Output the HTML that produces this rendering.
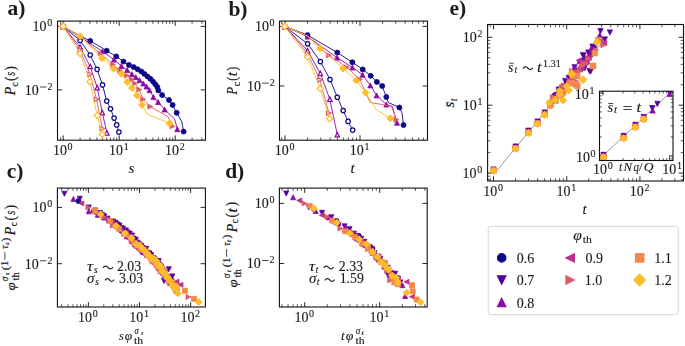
<!DOCTYPE html>
<html><head><meta charset="utf-8"><style>
html,body{margin:0;padding:0;background:#fff;}
svg{display:block;} text{will-change:transform;stroke:#1a1a1a;stroke-width:0.12px;} text[font-weight="bold"]{stroke:none;} .rot text{stroke-width:0.2px;will-change:auto;}
</style></head><body>
<svg width="685" height="346" viewBox="0 0 685 346">
<g stroke="#111"><line x1="63.20" y1="140.20" x2="63.20" y2="135.40" stroke-width="0.9"/><line x1="63.20" y1="21.10" x2="63.20" y2="25.90" stroke-width="0.9"/><line x1="119.20" y1="140.20" x2="119.20" y2="135.40" stroke-width="0.9"/><line x1="119.20" y1="21.10" x2="119.20" y2="25.90" stroke-width="0.9"/><line x1="175.20" y1="140.20" x2="175.20" y2="135.40" stroke-width="0.9"/><line x1="175.20" y1="21.10" x2="175.20" y2="25.90" stroke-width="0.9"/><line x1="60.64" y1="140.20" x2="60.64" y2="137.40" stroke-width="0.7"/><line x1="60.64" y1="21.10" x2="60.64" y2="23.90" stroke-width="0.7"/><line x1="80.06" y1="140.20" x2="80.06" y2="137.40" stroke-width="0.7"/><line x1="80.06" y1="21.10" x2="80.06" y2="23.90" stroke-width="0.7"/><line x1="89.92" y1="140.20" x2="89.92" y2="137.40" stroke-width="0.7"/><line x1="89.92" y1="21.10" x2="89.92" y2="23.90" stroke-width="0.7"/><line x1="96.92" y1="140.20" x2="96.92" y2="137.40" stroke-width="0.7"/><line x1="96.92" y1="21.10" x2="96.92" y2="23.90" stroke-width="0.7"/><line x1="102.34" y1="140.20" x2="102.34" y2="137.40" stroke-width="0.7"/><line x1="102.34" y1="21.10" x2="102.34" y2="23.90" stroke-width="0.7"/><line x1="106.78" y1="140.20" x2="106.78" y2="137.40" stroke-width="0.7"/><line x1="106.78" y1="21.10" x2="106.78" y2="23.90" stroke-width="0.7"/><line x1="110.53" y1="140.20" x2="110.53" y2="137.40" stroke-width="0.7"/><line x1="110.53" y1="21.10" x2="110.53" y2="23.90" stroke-width="0.7"/><line x1="113.77" y1="140.20" x2="113.77" y2="137.40" stroke-width="0.7"/><line x1="113.77" y1="21.10" x2="113.77" y2="23.90" stroke-width="0.7"/><line x1="116.64" y1="140.20" x2="116.64" y2="137.40" stroke-width="0.7"/><line x1="116.64" y1="21.10" x2="116.64" y2="23.90" stroke-width="0.7"/><line x1="136.06" y1="140.20" x2="136.06" y2="137.40" stroke-width="0.7"/><line x1="136.06" y1="21.10" x2="136.06" y2="23.90" stroke-width="0.7"/><line x1="145.92" y1="140.20" x2="145.92" y2="137.40" stroke-width="0.7"/><line x1="145.92" y1="21.10" x2="145.92" y2="23.90" stroke-width="0.7"/><line x1="152.92" y1="140.20" x2="152.92" y2="137.40" stroke-width="0.7"/><line x1="152.92" y1="21.10" x2="152.92" y2="23.90" stroke-width="0.7"/><line x1="158.34" y1="140.20" x2="158.34" y2="137.40" stroke-width="0.7"/><line x1="158.34" y1="21.10" x2="158.34" y2="23.90" stroke-width="0.7"/><line x1="162.78" y1="140.20" x2="162.78" y2="137.40" stroke-width="0.7"/><line x1="162.78" y1="21.10" x2="162.78" y2="23.90" stroke-width="0.7"/><line x1="166.53" y1="140.20" x2="166.53" y2="137.40" stroke-width="0.7"/><line x1="166.53" y1="21.10" x2="166.53" y2="23.90" stroke-width="0.7"/><line x1="169.77" y1="140.20" x2="169.77" y2="137.40" stroke-width="0.7"/><line x1="169.77" y1="21.10" x2="169.77" y2="23.90" stroke-width="0.7"/><line x1="172.64" y1="140.20" x2="172.64" y2="137.40" stroke-width="0.7"/><line x1="172.64" y1="21.10" x2="172.64" y2="23.90" stroke-width="0.7"/><line x1="192.06" y1="140.20" x2="192.06" y2="137.40" stroke-width="0.7"/><line x1="192.06" y1="21.10" x2="192.06" y2="23.90" stroke-width="0.7"/><line x1="201.92" y1="140.20" x2="201.92" y2="137.40" stroke-width="0.7"/><line x1="201.92" y1="21.10" x2="201.92" y2="23.90" stroke-width="0.7"/><line x1="57.50" y1="26.40" x2="62.30" y2="26.40" stroke-width="0.9"/><line x1="205.50" y1="26.40" x2="200.70" y2="26.40" stroke-width="0.9"/><line x1="57.50" y1="89.90" x2="62.30" y2="89.90" stroke-width="0.9"/><line x1="205.50" y1="89.90" x2="200.70" y2="89.90" stroke-width="0.9"/></g>
<g stroke="#111"><line x1="285.00" y1="140.20" x2="285.00" y2="135.40" stroke-width="0.9"/><line x1="285.00" y1="21.10" x2="285.00" y2="25.90" stroke-width="0.9"/><line x1="360.00" y1="140.20" x2="360.00" y2="135.40" stroke-width="0.9"/><line x1="360.00" y1="21.10" x2="360.00" y2="25.90" stroke-width="0.9"/><line x1="281.57" y1="140.20" x2="281.57" y2="137.40" stroke-width="0.7"/><line x1="281.57" y1="21.10" x2="281.57" y2="23.90" stroke-width="0.7"/><line x1="307.58" y1="140.20" x2="307.58" y2="137.40" stroke-width="0.7"/><line x1="307.58" y1="21.10" x2="307.58" y2="23.90" stroke-width="0.7"/><line x1="320.78" y1="140.20" x2="320.78" y2="137.40" stroke-width="0.7"/><line x1="320.78" y1="21.10" x2="320.78" y2="23.90" stroke-width="0.7"/><line x1="330.15" y1="140.20" x2="330.15" y2="137.40" stroke-width="0.7"/><line x1="330.15" y1="21.10" x2="330.15" y2="23.90" stroke-width="0.7"/><line x1="337.42" y1="140.20" x2="337.42" y2="137.40" stroke-width="0.7"/><line x1="337.42" y1="21.10" x2="337.42" y2="23.90" stroke-width="0.7"/><line x1="343.36" y1="140.20" x2="343.36" y2="137.40" stroke-width="0.7"/><line x1="343.36" y1="21.10" x2="343.36" y2="23.90" stroke-width="0.7"/><line x1="348.38" y1="140.20" x2="348.38" y2="137.40" stroke-width="0.7"/><line x1="348.38" y1="21.10" x2="348.38" y2="23.90" stroke-width="0.7"/><line x1="352.73" y1="140.20" x2="352.73" y2="137.40" stroke-width="0.7"/><line x1="352.73" y1="21.10" x2="352.73" y2="23.90" stroke-width="0.7"/><line x1="356.57" y1="140.20" x2="356.57" y2="137.40" stroke-width="0.7"/><line x1="356.57" y1="21.10" x2="356.57" y2="23.90" stroke-width="0.7"/><line x1="382.58" y1="140.20" x2="382.58" y2="137.40" stroke-width="0.7"/><line x1="382.58" y1="21.10" x2="382.58" y2="23.90" stroke-width="0.7"/><line x1="395.78" y1="140.20" x2="395.78" y2="137.40" stroke-width="0.7"/><line x1="395.78" y1="21.10" x2="395.78" y2="23.90" stroke-width="0.7"/><line x1="405.15" y1="140.20" x2="405.15" y2="137.40" stroke-width="0.7"/><line x1="405.15" y1="21.10" x2="405.15" y2="23.90" stroke-width="0.7"/><line x1="412.42" y1="140.20" x2="412.42" y2="137.40" stroke-width="0.7"/><line x1="412.42" y1="21.10" x2="412.42" y2="23.90" stroke-width="0.7"/><line x1="418.36" y1="140.20" x2="418.36" y2="137.40" stroke-width="0.7"/><line x1="418.36" y1="21.10" x2="418.36" y2="23.90" stroke-width="0.7"/><line x1="423.38" y1="140.20" x2="423.38" y2="137.40" stroke-width="0.7"/><line x1="423.38" y1="21.10" x2="423.38" y2="23.90" stroke-width="0.7"/><line x1="279.50" y1="26.40" x2="284.30" y2="26.40" stroke-width="0.9"/><line x1="427.50" y1="26.40" x2="422.70" y2="26.40" stroke-width="0.9"/><line x1="279.50" y1="86.00" x2="284.30" y2="86.00" stroke-width="0.9"/><line x1="427.50" y1="86.00" x2="422.70" y2="86.00" stroke-width="0.9"/></g>
<g stroke="#111"><line x1="88.40" y1="307.00" x2="88.40" y2="302.20" stroke-width="0.9"/><line x1="88.40" y1="188.10" x2="88.40" y2="192.90" stroke-width="0.9"/><line x1="139.50" y1="307.00" x2="139.50" y2="302.20" stroke-width="0.9"/><line x1="139.50" y1="188.10" x2="139.50" y2="192.90" stroke-width="0.9"/><line x1="190.60" y1="307.00" x2="190.60" y2="302.20" stroke-width="0.9"/><line x1="190.60" y1="188.10" x2="190.60" y2="192.90" stroke-width="0.9"/><line x1="61.68" y1="307.00" x2="61.68" y2="304.20" stroke-width="0.7"/><line x1="61.68" y1="188.10" x2="61.68" y2="190.90" stroke-width="0.7"/><line x1="68.07" y1="307.00" x2="68.07" y2="304.20" stroke-width="0.7"/><line x1="68.07" y1="188.10" x2="68.07" y2="190.90" stroke-width="0.7"/><line x1="73.02" y1="307.00" x2="73.02" y2="304.20" stroke-width="0.7"/><line x1="73.02" y1="188.10" x2="73.02" y2="190.90" stroke-width="0.7"/><line x1="77.06" y1="307.00" x2="77.06" y2="304.20" stroke-width="0.7"/><line x1="77.06" y1="188.10" x2="77.06" y2="190.90" stroke-width="0.7"/><line x1="80.48" y1="307.00" x2="80.48" y2="304.20" stroke-width="0.7"/><line x1="80.48" y1="188.10" x2="80.48" y2="190.90" stroke-width="0.7"/><line x1="83.45" y1="307.00" x2="83.45" y2="304.20" stroke-width="0.7"/><line x1="83.45" y1="188.10" x2="83.45" y2="190.90" stroke-width="0.7"/><line x1="86.06" y1="307.00" x2="86.06" y2="304.20" stroke-width="0.7"/><line x1="86.06" y1="188.10" x2="86.06" y2="190.90" stroke-width="0.7"/><line x1="103.78" y1="307.00" x2="103.78" y2="304.20" stroke-width="0.7"/><line x1="103.78" y1="188.10" x2="103.78" y2="190.90" stroke-width="0.7"/><line x1="112.78" y1="307.00" x2="112.78" y2="304.20" stroke-width="0.7"/><line x1="112.78" y1="188.10" x2="112.78" y2="190.90" stroke-width="0.7"/><line x1="119.17" y1="307.00" x2="119.17" y2="304.20" stroke-width="0.7"/><line x1="119.17" y1="188.10" x2="119.17" y2="190.90" stroke-width="0.7"/><line x1="124.12" y1="307.00" x2="124.12" y2="304.20" stroke-width="0.7"/><line x1="124.12" y1="188.10" x2="124.12" y2="190.90" stroke-width="0.7"/><line x1="128.16" y1="307.00" x2="128.16" y2="304.20" stroke-width="0.7"/><line x1="128.16" y1="188.10" x2="128.16" y2="190.90" stroke-width="0.7"/><line x1="131.58" y1="307.00" x2="131.58" y2="304.20" stroke-width="0.7"/><line x1="131.58" y1="188.10" x2="131.58" y2="190.90" stroke-width="0.7"/><line x1="134.55" y1="307.00" x2="134.55" y2="304.20" stroke-width="0.7"/><line x1="134.55" y1="188.10" x2="134.55" y2="190.90" stroke-width="0.7"/><line x1="137.16" y1="307.00" x2="137.16" y2="304.20" stroke-width="0.7"/><line x1="137.16" y1="188.10" x2="137.16" y2="190.90" stroke-width="0.7"/><line x1="154.88" y1="307.00" x2="154.88" y2="304.20" stroke-width="0.7"/><line x1="154.88" y1="188.10" x2="154.88" y2="190.90" stroke-width="0.7"/><line x1="163.88" y1="307.00" x2="163.88" y2="304.20" stroke-width="0.7"/><line x1="163.88" y1="188.10" x2="163.88" y2="190.90" stroke-width="0.7"/><line x1="170.27" y1="307.00" x2="170.27" y2="304.20" stroke-width="0.7"/><line x1="170.27" y1="188.10" x2="170.27" y2="190.90" stroke-width="0.7"/><line x1="175.22" y1="307.00" x2="175.22" y2="304.20" stroke-width="0.7"/><line x1="175.22" y1="188.10" x2="175.22" y2="190.90" stroke-width="0.7"/><line x1="179.26" y1="307.00" x2="179.26" y2="304.20" stroke-width="0.7"/><line x1="179.26" y1="188.10" x2="179.26" y2="190.90" stroke-width="0.7"/><line x1="182.68" y1="307.00" x2="182.68" y2="304.20" stroke-width="0.7"/><line x1="182.68" y1="188.10" x2="182.68" y2="190.90" stroke-width="0.7"/><line x1="185.65" y1="307.00" x2="185.65" y2="304.20" stroke-width="0.7"/><line x1="185.65" y1="188.10" x2="185.65" y2="190.90" stroke-width="0.7"/><line x1="188.26" y1="307.00" x2="188.26" y2="304.20" stroke-width="0.7"/><line x1="188.26" y1="188.10" x2="188.26" y2="190.90" stroke-width="0.7"/><line x1="57.40" y1="207.40" x2="62.20" y2="207.40" stroke-width="0.9"/><line x1="205.40" y1="207.40" x2="200.60" y2="207.40" stroke-width="0.9"/><line x1="57.40" y1="263.70" x2="62.20" y2="263.70" stroke-width="0.9"/><line x1="205.40" y1="263.70" x2="200.60" y2="263.70" stroke-width="0.9"/></g>
<g stroke="#111"><line x1="304.70" y1="307.00" x2="304.70" y2="302.20" stroke-width="0.9"/><line x1="304.70" y1="188.10" x2="304.70" y2="192.90" stroke-width="0.9"/><line x1="379.70" y1="307.00" x2="379.70" y2="302.20" stroke-width="0.9"/><line x1="379.70" y1="188.10" x2="379.70" y2="192.90" stroke-width="0.9"/><line x1="282.12" y1="307.00" x2="282.12" y2="304.20" stroke-width="0.7"/><line x1="282.12" y1="188.10" x2="282.12" y2="190.90" stroke-width="0.7"/><line x1="288.06" y1="307.00" x2="288.06" y2="304.20" stroke-width="0.7"/><line x1="288.06" y1="188.10" x2="288.06" y2="190.90" stroke-width="0.7"/><line x1="293.08" y1="307.00" x2="293.08" y2="304.20" stroke-width="0.7"/><line x1="293.08" y1="188.10" x2="293.08" y2="190.90" stroke-width="0.7"/><line x1="297.43" y1="307.00" x2="297.43" y2="304.20" stroke-width="0.7"/><line x1="297.43" y1="188.10" x2="297.43" y2="190.90" stroke-width="0.7"/><line x1="301.27" y1="307.00" x2="301.27" y2="304.20" stroke-width="0.7"/><line x1="301.27" y1="188.10" x2="301.27" y2="190.90" stroke-width="0.7"/><line x1="327.28" y1="307.00" x2="327.28" y2="304.20" stroke-width="0.7"/><line x1="327.28" y1="188.10" x2="327.28" y2="190.90" stroke-width="0.7"/><line x1="340.48" y1="307.00" x2="340.48" y2="304.20" stroke-width="0.7"/><line x1="340.48" y1="188.10" x2="340.48" y2="190.90" stroke-width="0.7"/><line x1="349.85" y1="307.00" x2="349.85" y2="304.20" stroke-width="0.7"/><line x1="349.85" y1="188.10" x2="349.85" y2="190.90" stroke-width="0.7"/><line x1="357.12" y1="307.00" x2="357.12" y2="304.20" stroke-width="0.7"/><line x1="357.12" y1="188.10" x2="357.12" y2="190.90" stroke-width="0.7"/><line x1="363.06" y1="307.00" x2="363.06" y2="304.20" stroke-width="0.7"/><line x1="363.06" y1="188.10" x2="363.06" y2="190.90" stroke-width="0.7"/><line x1="368.08" y1="307.00" x2="368.08" y2="304.20" stroke-width="0.7"/><line x1="368.08" y1="188.10" x2="368.08" y2="190.90" stroke-width="0.7"/><line x1="372.43" y1="307.00" x2="372.43" y2="304.20" stroke-width="0.7"/><line x1="372.43" y1="188.10" x2="372.43" y2="190.90" stroke-width="0.7"/><line x1="376.27" y1="307.00" x2="376.27" y2="304.20" stroke-width="0.7"/><line x1="376.27" y1="188.10" x2="376.27" y2="190.90" stroke-width="0.7"/><line x1="402.28" y1="307.00" x2="402.28" y2="304.20" stroke-width="0.7"/><line x1="402.28" y1="188.10" x2="402.28" y2="190.90" stroke-width="0.7"/><line x1="415.48" y1="307.00" x2="415.48" y2="304.20" stroke-width="0.7"/><line x1="415.48" y1="188.10" x2="415.48" y2="190.90" stroke-width="0.7"/><line x1="424.85" y1="307.00" x2="424.85" y2="304.20" stroke-width="0.7"/><line x1="424.85" y1="188.10" x2="424.85" y2="190.90" stroke-width="0.7"/><line x1="279.40" y1="203.40" x2="284.20" y2="203.40" stroke-width="0.9"/><line x1="427.20" y1="203.40" x2="422.40" y2="203.40" stroke-width="0.9"/><line x1="279.40" y1="263.50" x2="284.20" y2="263.50" stroke-width="0.9"/><line x1="427.20" y1="263.50" x2="422.40" y2="263.50" stroke-width="0.9"/></g>
<g stroke="#111"><line x1="493.50" y1="181.00" x2="493.50" y2="176.20" stroke-width="0.9"/><line x1="493.50" y1="24.50" x2="493.50" y2="29.30" stroke-width="0.9"/><line x1="566.70" y1="181.00" x2="566.70" y2="176.20" stroke-width="0.9"/><line x1="566.70" y1="24.50" x2="566.70" y2="29.30" stroke-width="0.9"/><line x1="639.90" y1="181.00" x2="639.90" y2="176.20" stroke-width="0.9"/><line x1="639.90" y1="24.50" x2="639.90" y2="29.30" stroke-width="0.9"/><line x1="490.15" y1="181.00" x2="490.15" y2="178.20" stroke-width="0.7"/><line x1="490.15" y1="24.50" x2="490.15" y2="27.30" stroke-width="0.7"/><line x1="515.54" y1="181.00" x2="515.54" y2="178.20" stroke-width="0.7"/><line x1="515.54" y1="24.50" x2="515.54" y2="27.30" stroke-width="0.7"/><line x1="528.43" y1="181.00" x2="528.43" y2="178.20" stroke-width="0.7"/><line x1="528.43" y1="24.50" x2="528.43" y2="27.30" stroke-width="0.7"/><line x1="537.57" y1="181.00" x2="537.57" y2="178.20" stroke-width="0.7"/><line x1="537.57" y1="24.50" x2="537.57" y2="27.30" stroke-width="0.7"/><line x1="544.66" y1="181.00" x2="544.66" y2="178.20" stroke-width="0.7"/><line x1="544.66" y1="24.50" x2="544.66" y2="27.30" stroke-width="0.7"/><line x1="550.46" y1="181.00" x2="550.46" y2="178.20" stroke-width="0.7"/><line x1="550.46" y1="24.50" x2="550.46" y2="27.30" stroke-width="0.7"/><line x1="555.36" y1="181.00" x2="555.36" y2="178.20" stroke-width="0.7"/><line x1="555.36" y1="24.50" x2="555.36" y2="27.30" stroke-width="0.7"/><line x1="559.61" y1="181.00" x2="559.61" y2="178.20" stroke-width="0.7"/><line x1="559.61" y1="24.50" x2="559.61" y2="27.30" stroke-width="0.7"/><line x1="563.35" y1="181.00" x2="563.35" y2="178.20" stroke-width="0.7"/><line x1="563.35" y1="24.50" x2="563.35" y2="27.30" stroke-width="0.7"/><line x1="588.74" y1="181.00" x2="588.74" y2="178.20" stroke-width="0.7"/><line x1="588.74" y1="24.50" x2="588.74" y2="27.30" stroke-width="0.7"/><line x1="601.63" y1="181.00" x2="601.63" y2="178.20" stroke-width="0.7"/><line x1="601.63" y1="24.50" x2="601.63" y2="27.30" stroke-width="0.7"/><line x1="610.77" y1="181.00" x2="610.77" y2="178.20" stroke-width="0.7"/><line x1="610.77" y1="24.50" x2="610.77" y2="27.30" stroke-width="0.7"/><line x1="617.86" y1="181.00" x2="617.86" y2="178.20" stroke-width="0.7"/><line x1="617.86" y1="24.50" x2="617.86" y2="27.30" stroke-width="0.7"/><line x1="623.66" y1="181.00" x2="623.66" y2="178.20" stroke-width="0.7"/><line x1="623.66" y1="24.50" x2="623.66" y2="27.30" stroke-width="0.7"/><line x1="628.56" y1="181.00" x2="628.56" y2="178.20" stroke-width="0.7"/><line x1="628.56" y1="24.50" x2="628.56" y2="27.30" stroke-width="0.7"/><line x1="632.81" y1="181.00" x2="632.81" y2="178.20" stroke-width="0.7"/><line x1="632.81" y1="24.50" x2="632.81" y2="27.30" stroke-width="0.7"/><line x1="636.55" y1="181.00" x2="636.55" y2="178.20" stroke-width="0.7"/><line x1="636.55" y1="24.50" x2="636.55" y2="27.30" stroke-width="0.7"/><line x1="661.94" y1="181.00" x2="661.94" y2="178.20" stroke-width="0.7"/><line x1="661.94" y1="24.50" x2="661.94" y2="27.30" stroke-width="0.7"/><line x1="674.83" y1="181.00" x2="674.83" y2="178.20" stroke-width="0.7"/><line x1="674.83" y1="24.50" x2="674.83" y2="27.30" stroke-width="0.7"/><line x1="487.60" y1="173.10" x2="492.40" y2="173.10" stroke-width="0.9"/><line x1="683.50" y1="173.10" x2="678.70" y2="173.10" stroke-width="0.9"/><line x1="487.60" y1="105.20" x2="492.40" y2="105.20" stroke-width="0.9"/><line x1="683.50" y1="105.20" x2="678.70" y2="105.20" stroke-width="0.9"/><line x1="487.60" y1="37.30" x2="492.40" y2="37.30" stroke-width="0.9"/><line x1="683.50" y1="37.30" x2="678.70" y2="37.30" stroke-width="0.9"/><line x1="487.60" y1="179.68" x2="490.40" y2="179.68" stroke-width="0.7"/><line x1="683.50" y1="179.68" x2="680.70" y2="179.68" stroke-width="0.7"/><line x1="487.60" y1="176.21" x2="490.40" y2="176.21" stroke-width="0.7"/><line x1="683.50" y1="176.21" x2="680.70" y2="176.21" stroke-width="0.7"/><line x1="487.60" y1="152.66" x2="490.40" y2="152.66" stroke-width="0.7"/><line x1="683.50" y1="152.66" x2="680.70" y2="152.66" stroke-width="0.7"/><line x1="487.60" y1="140.70" x2="490.40" y2="140.70" stroke-width="0.7"/><line x1="683.50" y1="140.70" x2="680.70" y2="140.70" stroke-width="0.7"/><line x1="487.60" y1="132.22" x2="490.40" y2="132.22" stroke-width="0.7"/><line x1="683.50" y1="132.22" x2="680.70" y2="132.22" stroke-width="0.7"/><line x1="487.60" y1="125.64" x2="490.40" y2="125.64" stroke-width="0.7"/><line x1="683.50" y1="125.64" x2="680.70" y2="125.64" stroke-width="0.7"/><line x1="487.60" y1="120.26" x2="490.40" y2="120.26" stroke-width="0.7"/><line x1="683.50" y1="120.26" x2="680.70" y2="120.26" stroke-width="0.7"/><line x1="487.60" y1="115.72" x2="490.40" y2="115.72" stroke-width="0.7"/><line x1="683.50" y1="115.72" x2="680.70" y2="115.72" stroke-width="0.7"/><line x1="487.60" y1="111.78" x2="490.40" y2="111.78" stroke-width="0.7"/><line x1="683.50" y1="111.78" x2="680.70" y2="111.78" stroke-width="0.7"/><line x1="487.60" y1="108.31" x2="490.40" y2="108.31" stroke-width="0.7"/><line x1="683.50" y1="108.31" x2="680.70" y2="108.31" stroke-width="0.7"/><line x1="487.60" y1="84.76" x2="490.40" y2="84.76" stroke-width="0.7"/><line x1="683.50" y1="84.76" x2="680.70" y2="84.76" stroke-width="0.7"/><line x1="487.60" y1="72.80" x2="490.40" y2="72.80" stroke-width="0.7"/><line x1="683.50" y1="72.80" x2="680.70" y2="72.80" stroke-width="0.7"/><line x1="487.60" y1="64.32" x2="490.40" y2="64.32" stroke-width="0.7"/><line x1="683.50" y1="64.32" x2="680.70" y2="64.32" stroke-width="0.7"/><line x1="487.60" y1="57.74" x2="490.40" y2="57.74" stroke-width="0.7"/><line x1="683.50" y1="57.74" x2="680.70" y2="57.74" stroke-width="0.7"/><line x1="487.60" y1="52.36" x2="490.40" y2="52.36" stroke-width="0.7"/><line x1="683.50" y1="52.36" x2="680.70" y2="52.36" stroke-width="0.7"/><line x1="487.60" y1="47.82" x2="490.40" y2="47.82" stroke-width="0.7"/><line x1="683.50" y1="47.82" x2="680.70" y2="47.82" stroke-width="0.7"/><line x1="487.60" y1="43.88" x2="490.40" y2="43.88" stroke-width="0.7"/><line x1="683.50" y1="43.88" x2="680.70" y2="43.88" stroke-width="0.7"/><line x1="487.60" y1="40.41" x2="490.40" y2="40.41" stroke-width="0.7"/><line x1="683.50" y1="40.41" x2="680.70" y2="40.41" stroke-width="0.7"/></g>
<text x="7.55" y="15.30" font-family='"Liberation Serif", serif' font-size="21.5" font-weight="bold" fill="#1a1a1a" >a)</text>
<text x="228.38" y="15.70" font-family='"Liberation Serif", serif' font-size="21.5" font-weight="bold" fill="#1a1a1a" >b)</text>
<text x="6.75" y="178.10" font-family='"Liberation Serif", serif' font-size="21.5" font-weight="bold" fill="#1a1a1a" >c)</text>
<text x="225.14" y="178.30" font-family='"Liberation Serif", serif' font-size="21.5" font-weight="bold" fill="#1a1a1a" >d)</text>
<text x="449.45" y="15.00" font-family='"Liberation Serif", serif' font-size="21.5" font-weight="bold" fill="#1a1a1a" >e)</text>
<text x="52.92" y="155.00" font-family='"Liberation Serif", serif' font-size="14" fill="#1a1a1a" >10</text><text x="67.62" y="149.90" font-family='"Liberation Serif", serif' font-size="10" fill="#1a1a1a" >0</text>
<text x="109.02" y="155.00" font-family='"Liberation Serif", serif' font-size="14" fill="#1a1a1a" >10</text><text x="123.72" y="149.90" font-family='"Liberation Serif", serif' font-size="10" fill="#1a1a1a" >1</text>
<text x="164.99" y="155.00" font-family='"Liberation Serif", serif' font-size="14" fill="#1a1a1a" >10</text><text x="179.69" y="149.90" font-family='"Liberation Serif", serif' font-size="10" fill="#1a1a1a" >2</text>
<text x="32.60" y="31.30" font-family='"Liberation Serif", serif' font-size="14" fill="#1a1a1a" >10</text><text x="47.30" y="26.20" font-family='"Liberation Serif", serif' font-size="10" fill="#1a1a1a" >0</text>
<text x="24.65" y="94.80" font-family='"Liberation Serif", serif' font-size="14" fill="#1a1a1a" >10</text><rect x="39.85" y="86.60" width="6.60" height="0.8" fill="#1a1a1a"/><text x="47.45" y="89.70" font-family='"Liberation Serif", serif' font-size="10" fill="#1a1a1a" >2</text>
<text x="274.72" y="155.00" font-family='"Liberation Serif", serif' font-size="14" fill="#1a1a1a" >10</text><text x="289.42" y="149.90" font-family='"Liberation Serif", serif' font-size="10" fill="#1a1a1a" >0</text>
<text x="349.82" y="155.00" font-family='"Liberation Serif", serif' font-size="14" fill="#1a1a1a" >10</text><text x="364.52" y="149.90" font-family='"Liberation Serif", serif' font-size="10" fill="#1a1a1a" >1</text>
<text x="254.90" y="31.30" font-family='"Liberation Serif", serif' font-size="14" fill="#1a1a1a" >10</text><text x="269.60" y="26.20" font-family='"Liberation Serif", serif' font-size="10" fill="#1a1a1a" >0</text>
<text x="246.95" y="90.90" font-family='"Liberation Serif", serif' font-size="14" fill="#1a1a1a" >10</text><rect x="262.15" y="82.70" width="6.60" height="0.8" fill="#1a1a1a"/><text x="269.75" y="85.80" font-family='"Liberation Serif", serif' font-size="10" fill="#1a1a1a" >2</text>
<text x="78.12" y="321.60" font-family='"Liberation Serif", serif' font-size="14" fill="#1a1a1a" >10</text><text x="92.82" y="316.50" font-family='"Liberation Serif", serif' font-size="10" fill="#1a1a1a" >0</text>
<text x="129.32" y="321.60" font-family='"Liberation Serif", serif' font-size="14" fill="#1a1a1a" >10</text><text x="144.02" y="316.50" font-family='"Liberation Serif", serif' font-size="10" fill="#1a1a1a" >1</text>
<text x="180.40" y="321.60" font-family='"Liberation Serif", serif' font-size="14" fill="#1a1a1a" >10</text><text x="195.09" y="316.50" font-family='"Liberation Serif", serif' font-size="10" fill="#1a1a1a" >2</text>
<text x="32.60" y="212.30" font-family='"Liberation Serif", serif' font-size="14" fill="#1a1a1a" >10</text><text x="47.30" y="207.20" font-family='"Liberation Serif", serif' font-size="10" fill="#1a1a1a" >0</text>
<text x="24.65" y="268.60" font-family='"Liberation Serif", serif' font-size="14" fill="#1a1a1a" >10</text><rect x="39.85" y="260.40" width="6.60" height="0.8" fill="#1a1a1a"/><text x="47.45" y="263.50" font-family='"Liberation Serif", serif' font-size="10" fill="#1a1a1a" >2</text>
<text x="294.42" y="321.60" font-family='"Liberation Serif", serif' font-size="14" fill="#1a1a1a" >10</text><text x="309.12" y="316.50" font-family='"Liberation Serif", serif' font-size="10" fill="#1a1a1a" >0</text>
<text x="369.52" y="321.60" font-family='"Liberation Serif", serif' font-size="14" fill="#1a1a1a" >10</text><text x="384.22" y="316.50" font-family='"Liberation Serif", serif' font-size="10" fill="#1a1a1a" >1</text>
<text x="254.70" y="208.30" font-family='"Liberation Serif", serif' font-size="14" fill="#1a1a1a" >10</text><text x="269.40" y="203.20" font-family='"Liberation Serif", serif' font-size="10" fill="#1a1a1a" >0</text>
<text x="246.75" y="268.40" font-family='"Liberation Serif", serif' font-size="14" fill="#1a1a1a" >10</text><rect x="261.95" y="260.20" width="6.60" height="0.8" fill="#1a1a1a"/><text x="269.55" y="263.30" font-family='"Liberation Serif", serif' font-size="10" fill="#1a1a1a" >2</text>
<text x="483.22" y="196.00" font-family='"Liberation Serif", serif' font-size="14" fill="#1a1a1a" >10</text><text x="497.92" y="190.90" font-family='"Liberation Serif", serif' font-size="10" fill="#1a1a1a" >0</text>
<text x="556.52" y="196.00" font-family='"Liberation Serif", serif' font-size="14" fill="#1a1a1a" >10</text><text x="571.22" y="190.90" font-family='"Liberation Serif", serif' font-size="10" fill="#1a1a1a" >1</text>
<text x="629.69" y="196.00" font-family='"Liberation Serif", serif' font-size="14" fill="#1a1a1a" >10</text><text x="644.39" y="190.90" font-family='"Liberation Serif", serif' font-size="10" fill="#1a1a1a" >2</text>
<text x="462.60" y="178.20" font-family='"Liberation Serif", serif' font-size="14" fill="#1a1a1a" >10</text><text x="477.30" y="173.10" font-family='"Liberation Serif", serif' font-size="10" fill="#1a1a1a" >0</text>
<text x="462.80" y="110.30" font-family='"Liberation Serif", serif' font-size="14" fill="#1a1a1a" >10</text><text x="477.50" y="105.20" font-family='"Liberation Serif", serif' font-size="10" fill="#1a1a1a" >1</text>
<text x="462.75" y="42.40" font-family='"Liberation Serif", serif' font-size="14" fill="#1a1a1a" >10</text><text x="477.45" y="37.30" font-family='"Liberation Serif", serif' font-size="10" fill="#1a1a1a" >2</text>
<text x="128.58" y="172.70" font-family='"Liberation Serif", serif' font-size="15" font-style="italic" fill="#1a1a1a" >s</text>
<text x="350.62" y="172.70" font-family='"Liberation Serif", serif' font-size="15" font-style="italic" fill="#1a1a1a" >t</text>
<text x="582.62" y="213.90" font-family='"Liberation Serif", serif' font-size="15" font-style="italic" fill="#1a1a1a" >t</text>
<g transform="translate(14.90,290.30) rotate(-90)" class="rot"><text x="-0.09" y="0.00" font-family='"Liberation Serif", serif' font-size="13.5" font-style="italic" fill="#1a1a1a" textLength="8.16" lengthAdjust="spacingAndGlyphs">φ</text></g><g transform="translate(19.30,280.70) rotate(-90)" class="rot"><text x="0.25" y="0.00" font-family='"Liberation Serif", serif' font-size="9.5" fill="#1a1a1a" textLength="8.14" lengthAdjust="spacingAndGlyphs">th</text></g><g transform="translate(8.00,281.20) rotate(-90)" class="rot"><text x="0.07" y="0.00" font-family='"Liberation Serif", serif' font-size="9.5" font-style="italic" fill="#1a1a1a" textLength="4.58" lengthAdjust="spacingAndGlyphs">σ</text></g><g transform="translate(9.20,275.30) rotate(-90)" class="rot"><text x="0.26" y="0.00" font-family='"Liberation Serif", serif' font-size="7.0" font-style="italic" fill="#1a1a1a" textLength="2.26" lengthAdjust="spacingAndGlyphs">s</text></g><g transform="translate(8.60,270.00) rotate(-90)" class="rot"><text x="-0.20" y="0.00" font-family='"Liberation Serif", serif' font-size="10" fill="#1a1a1a" textLength="4.05" lengthAdjust="spacingAndGlyphs">(</text></g><g transform="translate(8.20,265.30) rotate(-90)" class="rot"><text x="-0.58" y="0.00" font-family='"Liberation Serif", serif' font-size="10" fill="#1a1a1a" textLength="5.14" lengthAdjust="spacingAndGlyphs">1</text></g><rect x="4.50" y="252.20" width="0.8" height="7.60" fill="#1a1a1a"/><g transform="translate(7.80,249.10) rotate(-90)" class="rot"><text x="0.09" y="0.00" font-family='"Liberation Serif", serif' font-size="9.5" font-style="italic" fill="#1a1a1a" textLength="3.73" lengthAdjust="spacingAndGlyphs">τ</text></g><g transform="translate(9.20,245.30) rotate(-90)" class="rot"><text x="0.25" y="0.00" font-family='"Liberation Serif", serif' font-size="7.0" font-style="italic" fill="#1a1a1a" textLength="2.48" lengthAdjust="spacingAndGlyphs">s</text></g><g transform="translate(8.60,241.40) rotate(-90)" class="rot"><text x="0.02" y="0.00" font-family='"Liberation Serif", serif' font-size="10" fill="#1a1a1a" textLength="3.71" lengthAdjust="spacingAndGlyphs">)</text></g><g transform="translate(14.80,235.60) rotate(-90)" class="rot"><text x="0.42" y="0.00" font-family='"Liberation Serif", serif' font-size="14" font-style="italic" fill="#1a1a1a" textLength="8.59" lengthAdjust="spacingAndGlyphs">P</text></g><g transform="translate(16.60,226.20) rotate(-90)" class="rot"><text x="-0.02" y="0.00" font-family='"Liberation Serif", serif' font-size="9.5" fill="#1a1a1a" textLength="4.14" lengthAdjust="spacingAndGlyphs">c</text></g><g transform="translate(14.60,220.40) rotate(-90)" class="rot"><text x="-0.23" y="0.00" font-family='"Liberation Serif", serif' font-size="14" fill="#1a1a1a" textLength="4.31" lengthAdjust="spacingAndGlyphs">(</text></g><g transform="translate(14.80,215.20) rotate(-90)" class="rot"><text x="0.18" y="0.00" font-family='"Liberation Serif", serif' font-size="14" font-style="italic" fill="#1a1a1a" textLength="4.40" lengthAdjust="spacingAndGlyphs">s</text></g><g transform="translate(14.60,209.00) rotate(-90)" class="rot"><text x="-0.01" y="0.00" font-family='"Liberation Serif", serif' font-size="14" fill="#1a1a1a" textLength="3.97" lengthAdjust="spacingAndGlyphs">)</text></g>
<g transform="translate(236.70,287.30) rotate(-90)" class="rot"><text x="-0.09" y="0.00" font-family='"Liberation Serif", serif' font-size="13.5" font-style="italic" fill="#1a1a1a" textLength="8.16" lengthAdjust="spacingAndGlyphs">φ</text></g><g transform="translate(241.10,277.70) rotate(-90)" class="rot"><text x="0.25" y="0.00" font-family='"Liberation Serif", serif' font-size="9.5" fill="#1a1a1a" textLength="8.14" lengthAdjust="spacingAndGlyphs">th</text></g><g transform="translate(229.80,278.20) rotate(-90)" class="rot"><text x="0.07" y="0.00" font-family='"Liberation Serif", serif' font-size="9.5" font-style="italic" fill="#1a1a1a" textLength="4.58" lengthAdjust="spacingAndGlyphs">σ</text></g><g transform="translate(231.00,272.30) rotate(-90)" class="rot"><text x="-0.01" y="0.00" font-family='"Liberation Serif", serif' font-size="7.0" font-style="italic" fill="#1a1a1a" textLength="2.22" lengthAdjust="spacingAndGlyphs">t</text></g><g transform="translate(230.40,267.00) rotate(-90)" class="rot"><text x="-0.20" y="0.00" font-family='"Liberation Serif", serif' font-size="10" fill="#1a1a1a" textLength="4.05" lengthAdjust="spacingAndGlyphs">(</text></g><g transform="translate(230.00,262.30) rotate(-90)" class="rot"><text x="-0.58" y="0.00" font-family='"Liberation Serif", serif' font-size="10" fill="#1a1a1a" textLength="5.14" lengthAdjust="spacingAndGlyphs">1</text></g><rect x="226.30" y="249.20" width="0.8" height="7.60" fill="#1a1a1a"/><g transform="translate(229.60,246.10) rotate(-90)" class="rot"><text x="0.09" y="0.00" font-family='"Liberation Serif", serif' font-size="9.5" font-style="italic" fill="#1a1a1a" textLength="3.73" lengthAdjust="spacingAndGlyphs">τ</text></g><g transform="translate(231.00,242.30) rotate(-90)" class="rot"><text x="-0.05" y="0.00" font-family='"Liberation Serif", serif' font-size="7.0" font-style="italic" fill="#1a1a1a" textLength="2.44" lengthAdjust="spacingAndGlyphs">t</text></g><g transform="translate(230.40,238.40) rotate(-90)" class="rot"><text x="0.02" y="0.00" font-family='"Liberation Serif", serif' font-size="10" fill="#1a1a1a" textLength="3.71" lengthAdjust="spacingAndGlyphs">)</text></g><g transform="translate(236.60,232.60) rotate(-90)" class="rot"><text x="0.42" y="0.00" font-family='"Liberation Serif", serif' font-size="14" font-style="italic" fill="#1a1a1a" textLength="8.59" lengthAdjust="spacingAndGlyphs">P</text></g><g transform="translate(238.40,223.20) rotate(-90)" class="rot"><text x="-0.02" y="0.00" font-family='"Liberation Serif", serif' font-size="9.5" fill="#1a1a1a" textLength="4.14" lengthAdjust="spacingAndGlyphs">c</text></g><g transform="translate(236.40,217.40) rotate(-90)" class="rot"><text x="-0.23" y="0.00" font-family='"Liberation Serif", serif' font-size="14" fill="#1a1a1a" textLength="4.31" lengthAdjust="spacingAndGlyphs">(</text></g><g transform="translate(236.60,212.20) rotate(-90)" class="rot"><text x="-0.35" y="0.00" font-family='"Liberation Serif", serif' font-size="14" font-style="italic" fill="#1a1a1a" textLength="4.33" lengthAdjust="spacingAndGlyphs">t</text></g><g transform="translate(236.40,206.00) rotate(-90)" class="rot"><text x="-0.01" y="0.00" font-family='"Liberation Serif", serif' font-size="14" fill="#1a1a1a" textLength="3.97" lengthAdjust="spacingAndGlyphs">)</text></g>
<text x="119.07" y="339.70" font-family='"Liberation Serif", serif' font-size="13" font-style="italic" fill="#1a1a1a" textLength="4.74" lengthAdjust="spacingAndGlyphs">s</text><text x="124.75" y="339.70" font-family='"Liberation Serif", serif' font-size="13" font-style="italic" fill="#1a1a1a" textLength="7.38" lengthAdjust="spacingAndGlyphs">φ</text><text x="134.13" y="344.20" font-family='"Liberation Serif", serif' font-size="9.5" fill="#1a1a1a" textLength="8.96" lengthAdjust="spacingAndGlyphs">th</text><text x="134.60" y="334.00" font-family='"Liberation Serif", serif' font-size="9.5" font-style="italic" fill="#1a1a1a" textLength="4.18" lengthAdjust="spacingAndGlyphs">σ</text><text x="141.06" y="335.40" font-family='"Liberation Serif", serif' font-size="7" font-style="italic" fill="#1a1a1a" textLength="2.37" lengthAdjust="spacingAndGlyphs">s</text>
<text x="340.96" y="339.70" font-family='"Liberation Serif", serif' font-size="13" font-style="italic" fill="#1a1a1a" textLength="3.67" lengthAdjust="spacingAndGlyphs">t</text><text x="345.74" y="339.70" font-family='"Liberation Serif", serif' font-size="13" font-style="italic" fill="#1a1a1a" textLength="7.60" lengthAdjust="spacingAndGlyphs">φ</text><text x="355.63" y="344.20" font-family='"Liberation Serif", serif' font-size="9.5" fill="#1a1a1a" textLength="9.07" lengthAdjust="spacingAndGlyphs">th</text><text x="355.78" y="334.00" font-family='"Liberation Serif", serif' font-size="9.5" font-style="italic" fill="#1a1a1a" textLength="4.48" lengthAdjust="spacingAndGlyphs">σ</text><text x="361.30" y="335.40" font-family='"Liberation Serif", serif' font-size="7" font-style="italic" fill="#1a1a1a" textLength="2.78" lengthAdjust="spacingAndGlyphs">t</text>
<g transform="translate(454.40,107.50) rotate(-90)" class="rot"><text x="0.13" y="0.00" font-family='"Liberation Serif", serif' font-size="14" font-style="italic" fill="#1a1a1a" textLength="5.75" lengthAdjust="spacingAndGlyphs">s</text></g>
<g transform="translate(457.00,100.90) rotate(-90)" class="rot"><text x="-0.03" y="0.00" font-family='"Liberation Serif", serif' font-size="10" font-style="italic" fill="#1a1a1a" textLength="2.33" lengthAdjust="spacingAndGlyphs">t</text></g>
<rect x="446.50" y="101.90" width="0.8" height="4.50" fill="#1a1a1a"/>
<text x="508.05" y="71.50" font-family='"Liberation Serif", serif' font-size="14" font-style="italic" fill="#1a1a1a" textLength="5.30" lengthAdjust="spacingAndGlyphs">s</text>
<text x="514.52" y="73.30" font-family='"Liberation Serif", serif' font-size="10" font-style="italic" fill="#1a1a1a" textLength="2.67" lengthAdjust="spacingAndGlyphs">t</text>
<rect x="509.3" y="62.8" width="4.4" height="0.8" fill="#1a1a1a"/>
<path d="M523.20,68.10 L523.59,67.75 L523.98,67.42 L524.38,67.15 L524.77,66.93 L525.16,66.80 L525.55,66.75 L525.94,66.80 L526.33,66.93 L526.73,67.15 L527.12,67.42 L527.51,67.75 L527.90,68.10 L528.29,68.45 L528.68,68.77 L529.08,69.05 L529.47,69.27 L529.86,69.40 L530.25,69.45 L530.64,69.40 L531.03,69.27 L531.43,69.05 L531.82,68.77 L532.21,68.45 L532.60,68.10" fill="none" stroke="#1a1a1a" stroke-width="1.15" stroke-linecap="round"/>
<text x="537.09" y="71.60" font-family='"Liberation Serif", serif' font-size="14.5" font-style="italic" fill="#1a1a1a" textLength="4.67" lengthAdjust="spacingAndGlyphs">t</text>
<text x="543.03" y="66.60" font-family='"Liberation Serif", serif' font-size="9.5" fill="#1a1a1a" textLength="17.83" lengthAdjust="spacingAndGlyphs">1.31</text>
<g transform="translate(15.10,95.60) rotate(-90)" class="rot"><text x="0.42" y="0.00" font-family='"Liberation Serif", serif' font-size="14" font-style="italic" fill="#1a1a1a" textLength="8.49" lengthAdjust="spacingAndGlyphs">P</text></g><g transform="translate(17.50,86.40) rotate(-90)" class="rot"><text x="-0.03" y="0.00" font-family='"Liberation Serif", serif' font-size="9.5" fill="#1a1a1a" textLength="4.26" lengthAdjust="spacingAndGlyphs">c</text></g><g transform="translate(14.90,80.70) rotate(-90)" class="rot"><text x="-0.23" y="0.00" font-family='"Liberation Serif", serif' font-size="14" fill="#1a1a1a" textLength="4.31" lengthAdjust="spacingAndGlyphs">(</text></g><g transform="translate(15.10,76.00) rotate(-90)" class="rot"><text x="0.19" y="0.00" font-family='"Liberation Serif", serif' font-size="14" font-style="italic" fill="#1a1a1a" textLength="4.06" lengthAdjust="spacingAndGlyphs">s</text></g><g transform="translate(14.90,70.30) rotate(-90)" class="rot"><text x="-0.01" y="0.00" font-family='"Liberation Serif", serif' font-size="14" fill="#1a1a1a" textLength="3.97" lengthAdjust="spacingAndGlyphs">)</text></g>
<g transform="translate(237.40,94.80) rotate(-90)" class="rot"><text x="0.41" y="0.00" font-family='"Liberation Serif", serif' font-size="14" font-style="italic" fill="#1a1a1a" textLength="7.45" lengthAdjust="spacingAndGlyphs">P</text></g><g transform="translate(239.80,86.20) rotate(-90)" class="rot"><text x="-0.04" y="0.00" font-family='"Liberation Serif", serif' font-size="9.5" fill="#1a1a1a" textLength="4.38" lengthAdjust="spacingAndGlyphs">c</text></g><g transform="translate(237.20,80.50) rotate(-90)" class="rot"><text x="-0.16" y="0.00" font-family='"Liberation Serif", serif' font-size="14" fill="#1a1a1a" textLength="3.79" lengthAdjust="spacingAndGlyphs">(</text></g><g transform="translate(237.40,76.00) rotate(-90)" class="rot"><text x="-0.30" y="0.00" font-family='"Liberation Serif", serif' font-size="14" font-style="italic" fill="#1a1a1a" textLength="4.00" lengthAdjust="spacingAndGlyphs">t</text></g><g transform="translate(237.20,70.50) rotate(-90)" class="rot"><text x="0.03" y="0.00" font-family='"Liberation Serif", serif' font-size="14" fill="#1a1a1a" textLength="3.59" lengthAdjust="spacingAndGlyphs">)</text></g>
<text x="87.13" y="270.60" font-family='"Liberation Serif", serif' font-size="14" font-style="italic" fill="#1a1a1a" textLength="6.08" lengthAdjust="spacingAndGlyphs">τ</text><text x="94.11" y="273.40" font-family='"Liberation Serif", serif' font-size="9.5" font-style="italic" fill="#1a1a1a" textLength="3.61" lengthAdjust="spacingAndGlyphs">s</text><text x="87.10" y="283.00" font-family='"Liberation Serif", serif' font-size="14" font-style="italic" fill="#1a1a1a" textLength="7.37" lengthAdjust="spacingAndGlyphs">σ</text><text x="95.31" y="284.60" font-family='"Liberation Serif", serif' font-size="9.5" font-style="italic" fill="#1a1a1a" textLength="3.61" lengthAdjust="spacingAndGlyphs">s</text>
<path d="M103.30,267.50 L103.69,267.15 L104.08,266.82 L104.46,266.55 L104.85,266.33 L105.24,266.20 L105.62,266.15 L106.01,266.20 L106.40,266.33 L106.79,266.55 L107.17,266.82 L107.56,267.15 L107.95,267.50 L108.34,267.85 L108.72,268.18 L109.11,268.45 L109.50,268.67 L109.89,268.80 L110.27,268.85 L110.66,268.80 L111.05,268.67 L111.44,268.45 L111.82,268.18 L112.21,267.85 L112.60,267.50" fill="none" stroke="#1a1a1a" stroke-width="1.15" stroke-linecap="round"/>
<path d="M105.30,280.00 L105.65,279.65 L106.01,279.32 L106.36,279.05 L106.72,278.83 L107.07,278.70 L107.42,278.65 L107.78,278.70 L108.13,278.83 L108.49,279.05 L108.84,279.32 L109.20,279.65 L109.55,280.00 L109.90,280.35 L110.26,280.68 L110.61,280.95 L110.97,281.17 L111.32,281.30 L111.67,281.35 L112.03,281.30 L112.38,281.17 L112.74,280.95 L113.09,280.68 L113.45,280.35 L113.80,280.00" fill="none" stroke="#1a1a1a" stroke-width="1.15" stroke-linecap="round"/>
<text x="117.00" y="270.60" font-family='"Liberation Serif", serif' font-size="13.8" fill="#1a1a1a" >2.03</text>
<text x="119.00" y="283.30" font-family='"Liberation Serif", serif' font-size="13.8" fill="#1a1a1a" >3.03</text>
<text x="308.93" y="270.60" font-family='"Liberation Serif", serif' font-size="14" font-style="italic" fill="#1a1a1a" textLength="6.08" lengthAdjust="spacingAndGlyphs">τ</text><text x="315.60" y="273.40" font-family='"Liberation Serif", serif' font-size="9.5" font-style="italic" fill="#1a1a1a" textLength="2.78" lengthAdjust="spacingAndGlyphs">t</text><text x="308.90" y="283.00" font-family='"Liberation Serif", serif' font-size="14" font-style="italic" fill="#1a1a1a" textLength="7.37" lengthAdjust="spacingAndGlyphs">σ</text><text x="316.80" y="284.60" font-family='"Liberation Serif", serif' font-size="9.5" font-style="italic" fill="#1a1a1a" textLength="2.78" lengthAdjust="spacingAndGlyphs">t</text>
<path d="M324.00,267.50 L324.39,267.15 L324.77,266.82 L325.16,266.55 L325.55,266.33 L325.94,266.20 L326.32,266.15 L326.71,266.20 L327.10,266.33 L327.49,266.55 L327.88,266.82 L328.26,267.15 L328.65,267.50 L329.04,267.85 L329.43,268.18 L329.81,268.45 L330.20,268.67 L330.59,268.80 L330.98,268.85 L331.36,268.80 L331.75,268.67 L332.14,268.45 L332.53,268.18 L332.91,267.85 L333.30,267.50" fill="none" stroke="#1a1a1a" stroke-width="1.15" stroke-linecap="round"/>
<path d="M325.10,280.00 L325.49,279.65 L325.88,279.32 L326.26,279.05 L326.65,278.83 L327.04,278.70 L327.43,278.65 L327.81,278.70 L328.20,278.83 L328.59,279.05 L328.98,279.32 L329.36,279.65 L329.75,280.00 L330.14,280.35 L330.52,280.68 L330.91,280.95 L331.30,281.17 L331.69,281.30 L332.07,281.35 L332.46,281.30 L332.85,281.17 L333.24,280.95 L333.62,280.68 L334.01,280.35 L334.40,280.00" fill="none" stroke="#1a1a1a" stroke-width="1.15" stroke-linecap="round"/>
<text x="338.80" y="270.60" font-family='"Liberation Serif", serif' font-size="13.8" fill="#1a1a1a" >2.33</text>
<text x="339.70" y="283.30" font-family='"Liberation Serif", serif' font-size="13.8" fill="#1a1a1a" >1.59</text>
<defs><clipPath id="clipA"><rect x="57.5" y="21.1" width="148.0" height="119.1"/></clipPath><clipPath id="clipB"><rect x="279.5" y="21.1" width="148.0" height="119.1"/></clipPath><clipPath id="clipC"><rect x="57.4" y="188.1" width="148.0" height="118.9"/></clipPath><clipPath id="clipD"><rect x="279.4" y="188.1" width="147.8" height="118.9"/></clipPath><clipPath id="clipE"><rect x="487.6" y="24.5" width="195.89999999999998" height="156.5"/></clipPath><clipPath id="clipEI"><rect x="599.5" y="91.2" width="73.5" height="69.3"/></clipPath></defs>
<g clip-path="url(#clipA)"><polyline points="63.20,26.40 80.10,36.00 90.20,40.90 106.70,50.70 116.30,56.40 123.50,61.60 129.00,65.00 133.70,67.10 137.60,69.30 141.30,71.40 144.40,73.90 147.50,76.50 150.40,78.80 153.00,81.60 155.30,84.30 157.30,87.00 158.30,90.40 162.10,95.10 169.00,100.00 172.60,105.00 176.70,112.80 181.90,122.00 183.60,131.60" fill="none" stroke="#0d0887" stroke-width="0.9" stroke-linejoin="round"/><circle cx="63.20" cy="26.40" r="2.50" fill="#0d0887" stroke="#0d0887" stroke-width="0.8"/><circle cx="90.20" cy="40.90" r="2.50" fill="#0d0887" stroke="#0d0887" stroke-width="0.8"/><circle cx="106.70" cy="50.70" r="2.50" fill="#0d0887" stroke="#0d0887" stroke-width="0.8"/><circle cx="116.30" cy="56.40" r="2.50" fill="#0d0887" stroke="#0d0887" stroke-width="0.8"/><circle cx="123.50" cy="61.60" r="2.50" fill="#0d0887" stroke="#0d0887" stroke-width="0.8"/><circle cx="129.00" cy="65.00" r="2.50" fill="#0d0887" stroke="#0d0887" stroke-width="0.8"/><circle cx="133.70" cy="67.10" r="2.50" fill="#0d0887" stroke="#0d0887" stroke-width="0.8"/><circle cx="137.60" cy="69.30" r="2.50" fill="#0d0887" stroke="#0d0887" stroke-width="0.8"/><circle cx="141.30" cy="71.40" r="2.50" fill="#0d0887" stroke="#0d0887" stroke-width="0.8"/><circle cx="144.40" cy="73.90" r="2.50" fill="#0d0887" stroke="#0d0887" stroke-width="0.8"/><circle cx="147.50" cy="76.50" r="2.50" fill="#0d0887" stroke="#0d0887" stroke-width="0.8"/><circle cx="150.40" cy="78.80" r="2.50" fill="#0d0887" stroke="#0d0887" stroke-width="0.8"/><circle cx="153.00" cy="81.60" r="2.50" fill="#0d0887" stroke="#0d0887" stroke-width="0.8"/><circle cx="155.30" cy="84.30" r="2.50" fill="#0d0887" stroke="#0d0887" stroke-width="0.8"/><circle cx="157.30" cy="87.00" r="2.50" fill="#0d0887" stroke="#0d0887" stroke-width="0.8"/><circle cx="158.30" cy="90.40" r="2.50" fill="#0d0887" stroke="#0d0887" stroke-width="0.8"/><circle cx="162.10" cy="95.10" r="2.50" fill="#0d0887" stroke="#0d0887" stroke-width="0.8"/><circle cx="169.00" cy="100.00" r="2.50" fill="#0d0887" stroke="#0d0887" stroke-width="0.8"/><circle cx="172.60" cy="105.00" r="2.50" fill="#0d0887" stroke="#0d0887" stroke-width="0.8"/><circle cx="176.70" cy="112.80" r="2.50" fill="#0d0887" stroke="#0d0887" stroke-width="0.8"/><circle cx="183.60" cy="131.60" r="2.50" fill="#0d0887" stroke="#0d0887" stroke-width="0.8"/></g>
<g clip-path="url(#clipA)"><polyline points="63.20,26.40 80.10,40.50 90.20,55.00 97.10,69.30 102.50,84.90 106.70,101.10 110.50,108.70 114.10,118.10 116.70,124.90 118.90,132.10" fill="none" stroke="#0d0887" stroke-width="0.9" stroke-linejoin="round"/><circle cx="63.20" cy="26.40" r="2.20" fill="#fff" stroke="#0d0887" stroke-width="1.25"/><circle cx="80.10" cy="40.50" r="2.20" fill="#fff" stroke="#0d0887" stroke-width="1.25"/><circle cx="90.20" cy="55.00" r="2.20" fill="#fff" stroke="#0d0887" stroke-width="1.25"/><circle cx="97.10" cy="69.30" r="2.20" fill="#fff" stroke="#0d0887" stroke-width="1.25"/><circle cx="102.50" cy="84.90" r="2.20" fill="#fff" stroke="#0d0887" stroke-width="1.25"/><circle cx="106.70" cy="101.10" r="2.20" fill="#fff" stroke="#0d0887" stroke-width="1.25"/><circle cx="110.50" cy="108.70" r="2.20" fill="#fff" stroke="#0d0887" stroke-width="1.25"/><circle cx="114.10" cy="118.10" r="2.20" fill="#fff" stroke="#0d0887" stroke-width="1.25"/><circle cx="116.70" cy="124.90" r="2.20" fill="#fff" stroke="#0d0887" stroke-width="1.25"/><circle cx="118.90" cy="132.10" r="2.20" fill="#fff" stroke="#0d0887" stroke-width="1.25"/></g>
<g clip-path="url(#clipA)"><polyline points="63.20,26.40 80.10,37.00 102.40,51.30 114.00,59.60 121.30,66.00 127.10,70.00 131.90,74.30 135.80,77.20 139.50,80.20 143.30,83.50 146.50,86.50 149.50,90.20 153.40,97.10 158.10,102.00 164.60,109.50 174.70,119.10 177.30,129.20" fill="none" stroke="#8b0aa5" stroke-width="0.9" stroke-linejoin="round"/><polygon points="63.20,23.90 60.70,28.90 65.70,28.90" fill="#8b0aa5" stroke="#8b0aa5" stroke-width="0.8" stroke-linejoin="miter"/><polygon points="80.10,34.50 77.60,39.50 82.60,39.50" fill="#8b0aa5" stroke="#8b0aa5" stroke-width="0.8" stroke-linejoin="miter"/><polygon points="102.40,48.80 99.90,53.80 104.90,53.80" fill="#8b0aa5" stroke="#8b0aa5" stroke-width="0.8" stroke-linejoin="miter"/><polygon points="114.00,57.10 111.50,62.10 116.50,62.10" fill="#8b0aa5" stroke="#8b0aa5" stroke-width="0.8" stroke-linejoin="miter"/><polygon points="121.30,63.50 118.80,68.50 123.80,68.50" fill="#8b0aa5" stroke="#8b0aa5" stroke-width="0.8" stroke-linejoin="miter"/><polygon points="127.10,67.50 124.60,72.50 129.60,72.50" fill="#8b0aa5" stroke="#8b0aa5" stroke-width="0.8" stroke-linejoin="miter"/><polygon points="131.90,71.80 129.40,76.80 134.40,76.80" fill="#8b0aa5" stroke="#8b0aa5" stroke-width="0.8" stroke-linejoin="miter"/><polygon points="135.80,74.70 133.30,79.70 138.30,79.70" fill="#8b0aa5" stroke="#8b0aa5" stroke-width="0.8" stroke-linejoin="miter"/><polygon points="139.50,77.70 137.00,82.70 142.00,82.70" fill="#8b0aa5" stroke="#8b0aa5" stroke-width="0.8" stroke-linejoin="miter"/><polygon points="143.30,81.00 140.80,86.00 145.80,86.00" fill="#8b0aa5" stroke="#8b0aa5" stroke-width="0.8" stroke-linejoin="miter"/><polygon points="146.50,84.00 144.00,89.00 149.00,89.00" fill="#8b0aa5" stroke="#8b0aa5" stroke-width="0.8" stroke-linejoin="miter"/><polygon points="149.50,87.70 147.00,92.70 152.00,92.70" fill="#8b0aa5" stroke="#8b0aa5" stroke-width="0.8" stroke-linejoin="miter"/><polygon points="153.40,94.60 150.90,99.60 155.90,99.60" fill="#8b0aa5" stroke="#8b0aa5" stroke-width="0.8" stroke-linejoin="miter"/><polygon points="158.10,99.50 155.60,104.50 160.60,104.50" fill="#8b0aa5" stroke="#8b0aa5" stroke-width="0.8" stroke-linejoin="miter"/><polygon points="164.60,107.00 162.10,112.00 167.10,112.00" fill="#8b0aa5" stroke="#8b0aa5" stroke-width="0.8" stroke-linejoin="miter"/><polygon points="177.30,126.70 174.80,131.70 179.80,131.70" fill="#8b0aa5" stroke="#8b0aa5" stroke-width="0.8" stroke-linejoin="miter"/></g>
<g clip-path="url(#clipA)"><polyline points="63.20,26.40 80.10,47.00 90.20,66.50 97.20,87.70 102.30,112.60 106.90,132.90" fill="none" stroke="#8b0aa5" stroke-width="0.9" stroke-linejoin="round"/><polygon points="63.20,24.20 61.00,28.60 65.40,28.60" fill="#fff" stroke="#8b0aa5" stroke-width="1.25" stroke-linejoin="miter"/><polygon points="80.10,44.80 77.90,49.20 82.30,49.20" fill="#fff" stroke="#8b0aa5" stroke-width="1.25" stroke-linejoin="miter"/><polygon points="90.20,64.30 88.00,68.70 92.40,68.70" fill="#fff" stroke="#8b0aa5" stroke-width="1.25" stroke-linejoin="miter"/><polygon points="97.20,85.50 95.00,89.90 99.40,89.90" fill="#fff" stroke="#8b0aa5" stroke-width="1.25" stroke-linejoin="miter"/><polygon points="102.30,110.40 100.10,114.80 104.50,114.80" fill="#fff" stroke="#8b0aa5" stroke-width="1.25" stroke-linejoin="miter"/><polygon points="106.90,130.70 104.70,135.10 109.10,135.10" fill="#fff" stroke="#8b0aa5" stroke-width="1.25" stroke-linejoin="miter"/></g>
<g clip-path="url(#clipA)"><polyline points="63.20,26.40 80.10,36.50 100.60,53.60 112.90,64.50 120.20,70.40 127.00,75.60 131.70,79.50 134.90,83.40 139.20,89.60 143.10,99.20 150.30,106.60 168.20,116.90 172.50,126.30" fill="none" stroke="#db5c68" stroke-width="0.9" stroke-linejoin="round"/><polygon points="65.70,26.40 60.70,23.90 60.70,28.90" fill="#db5c68" stroke="#db5c68" stroke-width="0.8" stroke-linejoin="miter"/><polygon points="82.60,36.50 77.60,34.00 77.60,39.00" fill="#db5c68" stroke="#db5c68" stroke-width="0.8" stroke-linejoin="miter"/><polygon points="103.10,53.60 98.10,51.10 98.10,56.10" fill="#db5c68" stroke="#db5c68" stroke-width="0.8" stroke-linejoin="miter"/><polygon points="115.40,64.50 110.40,62.00 110.40,67.00" fill="#db5c68" stroke="#db5c68" stroke-width="0.8" stroke-linejoin="miter"/><polygon points="122.70,70.40 117.70,67.90 117.70,72.90" fill="#db5c68" stroke="#db5c68" stroke-width="0.8" stroke-linejoin="miter"/><polygon points="129.50,75.60 124.50,73.10 124.50,78.10" fill="#db5c68" stroke="#db5c68" stroke-width="0.8" stroke-linejoin="miter"/><polygon points="134.20,79.50 129.20,77.00 129.20,82.00" fill="#db5c68" stroke="#db5c68" stroke-width="0.8" stroke-linejoin="miter"/><polygon points="137.40,83.40 132.40,80.90 132.40,85.90" fill="#db5c68" stroke="#db5c68" stroke-width="0.8" stroke-linejoin="miter"/><polygon points="141.70,89.60 136.70,87.10 136.70,92.10" fill="#db5c68" stroke="#db5c68" stroke-width="0.8" stroke-linejoin="miter"/><polygon points="145.60,99.20 140.60,96.70 140.60,101.70" fill="#db5c68" stroke="#db5c68" stroke-width="0.8" stroke-linejoin="miter"/><polygon points="152.80,106.60 147.80,104.10 147.80,109.10" fill="#db5c68" stroke="#db5c68" stroke-width="0.8" stroke-linejoin="miter"/><polygon points="175.00,126.30 170.00,123.80 170.00,128.80" fill="#db5c68" stroke="#db5c68" stroke-width="0.8" stroke-linejoin="miter"/></g>
<g clip-path="url(#clipA)"><polyline points="63.20,26.40 80.10,50.00 90.00,74.20 96.60,99.40 102.30,128.50" fill="none" stroke="#db5c68" stroke-width="0.9" stroke-linejoin="round"/><polygon points="65.40,26.40 61.00,24.20 61.00,28.60" fill="#fff" stroke="#db5c68" stroke-width="1.25" stroke-linejoin="miter"/><polygon points="82.30,50.00 77.90,47.80 77.90,52.20" fill="#fff" stroke="#db5c68" stroke-width="1.25" stroke-linejoin="miter"/><polygon points="92.20,74.20 87.80,72.00 87.80,76.40" fill="#fff" stroke="#db5c68" stroke-width="1.25" stroke-linejoin="miter"/><polygon points="98.80,99.40 94.40,97.20 94.40,101.60" fill="#fff" stroke="#db5c68" stroke-width="1.25" stroke-linejoin="miter"/><polygon points="104.50,128.50 100.10,126.30 100.10,130.70" fill="#fff" stroke="#db5c68" stroke-width="1.25" stroke-linejoin="miter"/></g>
<g clip-path="url(#clipA)"><polyline points="63.20,26.40 80.10,36.20 102.10,58.20 113.50,68.50 121.50,73.70 127.20,82.00 132.00,87.90 136.90,95.40 142.10,105.00 147.20,114.00 169.60,123.40" fill="none" stroke="#febd2a" stroke-width="0.9" stroke-linejoin="round"/><polygon points="63.20,22.86 66.74,26.40 63.20,29.94 59.66,26.40" fill="#febd2a" stroke="#febd2a" stroke-width="0.8" stroke-linejoin="miter"/><polygon points="80.10,32.66 83.64,36.20 80.10,39.74 76.56,36.20" fill="#febd2a" stroke="#febd2a" stroke-width="0.8" stroke-linejoin="miter"/><polygon points="102.10,54.66 105.64,58.20 102.10,61.74 98.56,58.20" fill="#febd2a" stroke="#febd2a" stroke-width="0.8" stroke-linejoin="miter"/><polygon points="113.50,64.96 117.04,68.50 113.50,72.04 109.96,68.50" fill="#febd2a" stroke="#febd2a" stroke-width="0.8" stroke-linejoin="miter"/><polygon points="121.50,70.16 125.04,73.70 121.50,77.24 117.96,73.70" fill="#febd2a" stroke="#febd2a" stroke-width="0.8" stroke-linejoin="miter"/><polygon points="127.20,78.46 130.74,82.00 127.20,85.54 123.66,82.00" fill="#febd2a" stroke="#febd2a" stroke-width="0.8" stroke-linejoin="miter"/><polygon points="132.00,84.36 135.54,87.90 132.00,91.44 128.46,87.90" fill="#febd2a" stroke="#febd2a" stroke-width="0.8" stroke-linejoin="miter"/><polygon points="136.90,91.86 140.44,95.40 136.90,98.94 133.36,95.40" fill="#febd2a" stroke="#febd2a" stroke-width="0.8" stroke-linejoin="miter"/><polygon points="142.10,101.46 145.64,105.00 142.10,108.54 138.56,105.00" fill="#febd2a" stroke="#febd2a" stroke-width="0.8" stroke-linejoin="miter"/><polygon points="169.60,119.86 173.14,123.40 169.60,126.94 166.06,123.40" fill="#febd2a" stroke="#febd2a" stroke-width="0.8" stroke-linejoin="miter"/></g>
<g clip-path="url(#clipA)"><polyline points="63.20,26.40 80.10,53.50 90.00,81.70 97.20,115.50 102.30,134.30" fill="none" stroke="#febd2a" stroke-width="0.9" stroke-linejoin="round"/><polygon points="63.20,23.29 66.31,26.40 63.20,29.51 60.09,26.40" fill="#fff" stroke="#febd2a" stroke-width="1.25" stroke-linejoin="miter"/><polygon points="80.10,50.39 83.21,53.50 80.10,56.61 76.99,53.50" fill="#fff" stroke="#febd2a" stroke-width="1.25" stroke-linejoin="miter"/><polygon points="90.00,78.59 93.11,81.70 90.00,84.81 86.89,81.70" fill="#fff" stroke="#febd2a" stroke-width="1.25" stroke-linejoin="miter"/><polygon points="97.20,112.39 100.31,115.50 97.20,118.61 94.09,115.50" fill="#fff" stroke="#febd2a" stroke-width="1.25" stroke-linejoin="miter"/><polygon points="102.30,131.19 105.41,134.30 102.30,137.41 99.19,134.30" fill="#fff" stroke="#febd2a" stroke-width="1.25" stroke-linejoin="miter"/></g>
<g clip-path="url(#clipB)"><polyline points="284.80,26.40 307.50,35.10 337.30,52.60 352.40,62.30 362.70,69.40 370.70,75.80 376.90,81.90 382.20,86.00 386.30,97.00 388.30,102.50 399.40,107.50 402.00,113.00 403.50,125.10" fill="none" stroke="#0d0887" stroke-width="0.9" stroke-linejoin="round"/><circle cx="284.80" cy="26.40" r="2.50" fill="#0d0887" stroke="#0d0887" stroke-width="0.8"/><circle cx="307.50" cy="35.10" r="2.50" fill="#0d0887" stroke="#0d0887" stroke-width="0.8"/><circle cx="337.30" cy="52.60" r="2.50" fill="#0d0887" stroke="#0d0887" stroke-width="0.8"/><circle cx="352.40" cy="62.30" r="2.50" fill="#0d0887" stroke="#0d0887" stroke-width="0.8"/><circle cx="362.70" cy="69.40" r="2.50" fill="#0d0887" stroke="#0d0887" stroke-width="0.8"/><circle cx="370.70" cy="75.80" r="2.50" fill="#0d0887" stroke="#0d0887" stroke-width="0.8"/><circle cx="376.90" cy="81.90" r="2.50" fill="#0d0887" stroke="#0d0887" stroke-width="0.8"/><circle cx="382.20" cy="86.00" r="2.50" fill="#0d0887" stroke="#0d0887" stroke-width="0.8"/><circle cx="386.30" cy="97.00" r="2.50" fill="#0d0887" stroke="#0d0887" stroke-width="0.8"/><circle cx="399.40" cy="107.50" r="2.50" fill="#0d0887" stroke="#0d0887" stroke-width="0.8"/><circle cx="403.50" cy="125.10" r="2.50" fill="#0d0887" stroke="#0d0887" stroke-width="0.8"/></g>
<g clip-path="url(#clipB)"><polyline points="284.80,26.40 307.60,43.70 320.40,61.60 330.00,79.50 337.30,97.20 343.20,110.50 348.10,121.40 352.70,130.10" fill="none" stroke="#0d0887" stroke-width="0.9" stroke-linejoin="round"/><circle cx="284.80" cy="26.40" r="2.20" fill="#fff" stroke="#0d0887" stroke-width="1.25"/><circle cx="307.60" cy="43.70" r="2.20" fill="#fff" stroke="#0d0887" stroke-width="1.25"/><circle cx="320.40" cy="61.60" r="2.20" fill="#fff" stroke="#0d0887" stroke-width="1.25"/><circle cx="330.00" cy="79.50" r="2.20" fill="#fff" stroke="#0d0887" stroke-width="1.25"/><circle cx="337.30" cy="97.20" r="2.20" fill="#fff" stroke="#0d0887" stroke-width="1.25"/><circle cx="343.20" cy="110.50" r="2.20" fill="#fff" stroke="#0d0887" stroke-width="1.25"/><circle cx="348.10" cy="121.40" r="2.20" fill="#fff" stroke="#0d0887" stroke-width="1.25"/><circle cx="352.70" cy="130.10" r="2.20" fill="#fff" stroke="#0d0887" stroke-width="1.25"/></g>
<g clip-path="url(#clipB)"><polyline points="284.80,26.40 307.50,36.60 337.10,57.60 352.40,67.50 362.50,74.70 370.30,85.40 376.60,95.40 386.30,104.50 392.40,106.50 397.00,122.70" fill="none" stroke="#8b0aa5" stroke-width="0.9" stroke-linejoin="round"/><polygon points="284.80,23.90 282.30,28.90 287.30,28.90" fill="#8b0aa5" stroke="#8b0aa5" stroke-width="0.8" stroke-linejoin="miter"/><polygon points="307.50,34.10 305.00,39.10 310.00,39.10" fill="#8b0aa5" stroke="#8b0aa5" stroke-width="0.8" stroke-linejoin="miter"/><polygon points="337.10,55.10 334.60,60.10 339.60,60.10" fill="#8b0aa5" stroke="#8b0aa5" stroke-width="0.8" stroke-linejoin="miter"/><polygon points="352.40,65.00 349.90,70.00 354.90,70.00" fill="#8b0aa5" stroke="#8b0aa5" stroke-width="0.8" stroke-linejoin="miter"/><polygon points="362.50,72.20 360.00,77.20 365.00,77.20" fill="#8b0aa5" stroke="#8b0aa5" stroke-width="0.8" stroke-linejoin="miter"/><polygon points="370.30,82.90 367.80,87.90 372.80,87.90" fill="#8b0aa5" stroke="#8b0aa5" stroke-width="0.8" stroke-linejoin="miter"/><polygon points="376.60,92.90 374.10,97.90 379.10,97.90" fill="#8b0aa5" stroke="#8b0aa5" stroke-width="0.8" stroke-linejoin="miter"/><polygon points="386.30,102.00 383.80,107.00 388.80,107.00" fill="#8b0aa5" stroke="#8b0aa5" stroke-width="0.8" stroke-linejoin="miter"/><polygon points="397.00,120.20 394.50,125.20 399.50,125.20" fill="#8b0aa5" stroke="#8b0aa5" stroke-width="0.8" stroke-linejoin="miter"/></g>
<g clip-path="url(#clipB)"><polyline points="284.80,26.40 307.60,50.60 320.30,73.30 329.80,99.20 337.30,134.70" fill="none" stroke="#8b0aa5" stroke-width="0.9" stroke-linejoin="round"/><polygon points="284.80,24.20 282.60,28.60 287.00,28.60" fill="#fff" stroke="#8b0aa5" stroke-width="1.25" stroke-linejoin="miter"/><polygon points="307.60,48.40 305.40,52.80 309.80,52.80" fill="#fff" stroke="#8b0aa5" stroke-width="1.25" stroke-linejoin="miter"/><polygon points="320.30,71.10 318.10,75.50 322.50,75.50" fill="#fff" stroke="#8b0aa5" stroke-width="1.25" stroke-linejoin="miter"/><polygon points="329.80,97.00 327.60,101.40 332.00,101.40" fill="#fff" stroke="#8b0aa5" stroke-width="1.25" stroke-linejoin="miter"/><polygon points="337.30,132.50 335.10,136.90 339.50,136.90" fill="#fff" stroke="#8b0aa5" stroke-width="1.25" stroke-linejoin="miter"/></g>
<g clip-path="url(#clipB)"><polyline points="284.80,26.40 307.50,36.00 328.90,55.30 347.00,67.40 359.80,79.40 370.10,102.50 391.40,106.10 396.40,119.70" fill="none" stroke="#db5c68" stroke-width="0.9" stroke-linejoin="round"/><polygon points="287.30,26.40 282.30,23.90 282.30,28.90" fill="#db5c68" stroke="#db5c68" stroke-width="0.8" stroke-linejoin="miter"/><polygon points="331.40,55.30 326.40,52.80 326.40,57.80" fill="#db5c68" stroke="#db5c68" stroke-width="0.8" stroke-linejoin="miter"/><polygon points="349.50,67.40 344.50,64.90 344.50,69.90" fill="#db5c68" stroke="#db5c68" stroke-width="0.8" stroke-linejoin="miter"/><polygon points="362.30,79.40 357.30,76.90 357.30,81.90" fill="#db5c68" stroke="#db5c68" stroke-width="0.8" stroke-linejoin="miter"/><polygon points="398.90,119.70 393.90,117.20 393.90,122.20" fill="#db5c68" stroke="#db5c68" stroke-width="0.8" stroke-linejoin="miter"/></g>
<g clip-path="url(#clipB)"><polyline points="284.80,26.40 307.60,53.50 319.90,79.90 328.90,113.10" fill="none" stroke="#db5c68" stroke-width="0.9" stroke-linejoin="round"/><polygon points="287.00,26.40 282.60,24.20 282.60,28.60" fill="#fff" stroke="#db5c68" stroke-width="1.25" stroke-linejoin="miter"/><polygon points="309.80,53.50 305.40,51.30 305.40,55.70" fill="#fff" stroke="#db5c68" stroke-width="1.25" stroke-linejoin="miter"/><polygon points="322.10,79.90 317.70,77.70 317.70,82.10" fill="#fff" stroke="#db5c68" stroke-width="1.25" stroke-linejoin="miter"/><polygon points="331.10,113.10 326.70,110.90 326.70,115.30" fill="#fff" stroke="#db5c68" stroke-width="1.25" stroke-linejoin="miter"/></g>
<g clip-path="url(#clipB)"><polyline points="284.80,26.40 307.50,36.00 320.20,48.40 343.10,68.50 356.30,80.50 365.70,92.80 376.20,109.60 390.30,118.30" fill="none" stroke="#febd2a" stroke-width="0.9" stroke-linejoin="round"/><polygon points="284.80,22.86 288.34,26.40 284.80,29.94 281.26,26.40" fill="#febd2a" stroke="#febd2a" stroke-width="0.8" stroke-linejoin="miter"/><polygon points="320.20,44.86 323.74,48.40 320.20,51.94 316.66,48.40" fill="#febd2a" stroke="#febd2a" stroke-width="0.8" stroke-linejoin="miter"/><polygon points="343.10,64.96 346.64,68.50 343.10,72.04 339.56,68.50" fill="#febd2a" stroke="#febd2a" stroke-width="0.8" stroke-linejoin="miter"/><polygon points="356.30,76.96 359.84,80.50 356.30,84.04 352.76,80.50" fill="#febd2a" stroke="#febd2a" stroke-width="0.8" stroke-linejoin="miter"/><polygon points="365.70,89.26 369.24,92.80 365.70,96.34 362.16,92.80" fill="#febd2a" stroke="#febd2a" stroke-width="0.8" stroke-linejoin="miter"/><polygon points="390.30,114.76 393.84,118.30 390.30,121.84 386.76,118.30" fill="#febd2a" stroke="#febd2a" stroke-width="0.8" stroke-linejoin="miter"/></g>
<g clip-path="url(#clipB)"><polyline points="284.80,26.40 307.60,57.10 320.30,88.60 329.60,118.80" fill="none" stroke="#febd2a" stroke-width="0.9" stroke-linejoin="round"/><polygon points="284.80,23.29 287.91,26.40 284.80,29.51 281.69,26.40" fill="#fff" stroke="#febd2a" stroke-width="1.25" stroke-linejoin="miter"/><polygon points="307.60,53.99 310.71,57.10 307.60,60.21 304.49,57.10" fill="#fff" stroke="#febd2a" stroke-width="1.25" stroke-linejoin="miter"/><polygon points="320.30,85.49 323.41,88.60 320.30,91.71 317.19,88.60" fill="#fff" stroke="#febd2a" stroke-width="1.25" stroke-linejoin="miter"/><polygon points="329.60,115.69 332.71,118.80 329.60,121.91 326.49,118.80" fill="#fff" stroke="#febd2a" stroke-width="1.25" stroke-linejoin="miter"/></g>
<g clip-path="url(#clipC)"><circle cx="78.43" cy="201.07" r="2.50" fill="#0d0887" stroke="#0d0887" stroke-width="0.8"/><circle cx="93.81" cy="211.32" r="2.50" fill="#0d0887" stroke="#0d0887" stroke-width="0.8"/><circle cx="102.81" cy="214.75" r="2.50" fill="#0d0887" stroke="#0d0887" stroke-width="0.8"/><circle cx="109.20" cy="220.82" r="2.50" fill="#0d0887" stroke="#0d0887" stroke-width="0.8"/><circle cx="114.15" cy="222.87" r="2.50" fill="#0d0887" stroke="#0d0887" stroke-width="0.8"/><circle cx="118.19" cy="225.93" r="2.50" fill="#0d0887" stroke="#0d0887" stroke-width="0.8"/><circle cx="121.62" cy="230.96" r="2.50" fill="#0d0887" stroke="#0d0887" stroke-width="0.8"/><circle cx="124.58" cy="231.88" r="2.50" fill="#0d0887" stroke="#0d0887" stroke-width="0.8"/><circle cx="127.19" cy="234.04" r="2.50" fill="#0d0887" stroke="#0d0887" stroke-width="0.8"/><circle cx="129.53" cy="236.92" r="2.50" fill="#0d0887" stroke="#0d0887" stroke-width="0.8"/><circle cx="131.65" cy="239.36" r="2.50" fill="#0d0887" stroke="#0d0887" stroke-width="0.8"/><circle cx="133.58" cy="240.11" r="2.50" fill="#0d0887" stroke="#0d0887" stroke-width="0.8"/><circle cx="135.35" cy="242.49" r="2.50" fill="#0d0887" stroke="#0d0887" stroke-width="0.8"/><circle cx="137.00" cy="242.56" r="2.50" fill="#0d0887" stroke="#0d0887" stroke-width="0.8"/><circle cx="138.53" cy="244.68" r="2.50" fill="#0d0887" stroke="#0d0887" stroke-width="0.8"/><circle cx="139.96" cy="246.03" r="2.50" fill="#0d0887" stroke="#0d0887" stroke-width="0.8"/><circle cx="141.31" cy="246.32" r="2.50" fill="#0d0887" stroke="#0d0887" stroke-width="0.8"/><circle cx="142.58" cy="247.24" r="2.50" fill="#0d0887" stroke="#0d0887" stroke-width="0.8"/><circle cx="143.78" cy="248.16" r="2.50" fill="#0d0887" stroke="#0d0887" stroke-width="0.8"/><circle cx="144.91" cy="250.53" r="2.50" fill="#0d0887" stroke="#0d0887" stroke-width="0.8"/><circle cx="146.00" cy="251.53" r="2.50" fill="#0d0887" stroke="#0d0887" stroke-width="0.8"/><circle cx="147.03" cy="252.27" r="2.50" fill="#0d0887" stroke="#0d0887" stroke-width="0.8"/><circle cx="148.02" cy="253.51" r="2.50" fill="#0d0887" stroke="#0d0887" stroke-width="0.8"/><circle cx="148.96" cy="252.92" r="2.50" fill="#0d0887" stroke="#0d0887" stroke-width="0.8"/><circle cx="149.87" cy="254.96" r="2.50" fill="#0d0887" stroke="#0d0887" stroke-width="0.8"/><circle cx="150.74" cy="256.13" r="2.50" fill="#0d0887" stroke="#0d0887" stroke-width="0.8"/><circle cx="151.57" cy="257.63" r="2.50" fill="#0d0887" stroke="#0d0887" stroke-width="0.8"/><circle cx="154.09" cy="259.00" r="2.50" fill="#0d0887" stroke="#0d0887" stroke-width="0.8"/><circle cx="156.60" cy="262.41" r="2.50" fill="#0d0887" stroke="#0d0887" stroke-width="0.8"/><circle cx="159.12" cy="263.76" r="2.50" fill="#0d0887" stroke="#0d0887" stroke-width="0.8"/><circle cx="161.63" cy="267.35" r="2.50" fill="#0d0887" stroke="#0d0887" stroke-width="0.8"/><circle cx="163.88" cy="271.16" r="2.50" fill="#0d0887" stroke="#0d0887" stroke-width="0.8"/><polygon points="64.42,196.29 61.92,191.29 66.92,191.29" fill="#5402a3" stroke="#5402a3" stroke-width="0.8" stroke-linejoin="miter"/><polygon points="79.80,201.21 77.30,196.21 82.30,196.21" fill="#5402a3" stroke="#5402a3" stroke-width="0.8" stroke-linejoin="miter"/><polygon points="88.80,210.02 86.30,205.02 91.30,205.02" fill="#5402a3" stroke="#5402a3" stroke-width="0.8" stroke-linejoin="miter"/><polygon points="95.18,212.94 92.68,207.94 97.68,207.94" fill="#5402a3" stroke="#5402a3" stroke-width="0.8" stroke-linejoin="miter"/><polygon points="100.13,215.44 97.63,210.44 102.63,210.44" fill="#5402a3" stroke="#5402a3" stroke-width="0.8" stroke-linejoin="miter"/><polygon points="104.18,218.83 101.68,213.83 106.68,213.83" fill="#5402a3" stroke="#5402a3" stroke-width="0.8" stroke-linejoin="miter"/><polygon points="107.60,221.12 105.10,216.12 110.10,216.12" fill="#5402a3" stroke="#5402a3" stroke-width="0.8" stroke-linejoin="miter"/><polygon points="110.56,223.59 108.06,218.59 113.06,218.59" fill="#5402a3" stroke="#5402a3" stroke-width="0.8" stroke-linejoin="miter"/><polygon points="113.18,224.05 110.68,219.05 115.68,219.05" fill="#5402a3" stroke="#5402a3" stroke-width="0.8" stroke-linejoin="miter"/><polygon points="115.52,225.31 113.02,220.31 118.02,220.31" fill="#5402a3" stroke="#5402a3" stroke-width="0.8" stroke-linejoin="miter"/><polygon points="117.63,226.95 115.13,221.95 120.13,221.95" fill="#5402a3" stroke="#5402a3" stroke-width="0.8" stroke-linejoin="miter"/><polygon points="119.56,228.07 117.06,223.07 122.06,223.07" fill="#5402a3" stroke="#5402a3" stroke-width="0.8" stroke-linejoin="miter"/><polygon points="121.34,230.56 118.84,225.56 123.84,225.56" fill="#5402a3" stroke="#5402a3" stroke-width="0.8" stroke-linejoin="miter"/><polygon points="122.98,231.30 120.48,226.30 125.48,226.30" fill="#5402a3" stroke="#5402a3" stroke-width="0.8" stroke-linejoin="miter"/><polygon points="124.51,234.54 122.01,229.54 127.01,229.54" fill="#5402a3" stroke="#5402a3" stroke-width="0.8" stroke-linejoin="miter"/><polygon points="125.95,232.89 123.45,227.89 128.45,227.89" fill="#5402a3" stroke="#5402a3" stroke-width="0.8" stroke-linejoin="miter"/><polygon points="127.29,234.88 124.79,229.88 129.79,229.88" fill="#5402a3" stroke="#5402a3" stroke-width="0.8" stroke-linejoin="miter"/><polygon points="128.56,236.16 126.06,231.16 131.06,231.16" fill="#5402a3" stroke="#5402a3" stroke-width="0.8" stroke-linejoin="miter"/><polygon points="129.76,236.10 127.26,231.10 132.26,231.10" fill="#5402a3" stroke="#5402a3" stroke-width="0.8" stroke-linejoin="miter"/><polygon points="130.90,241.19 128.40,236.19 133.40,236.19" fill="#5402a3" stroke="#5402a3" stroke-width="0.8" stroke-linejoin="miter"/><polygon points="131.98,237.95 129.48,232.95 134.48,232.95" fill="#5402a3" stroke="#5402a3" stroke-width="0.8" stroke-linejoin="miter"/><polygon points="133.01,241.10 130.51,236.10 135.51,236.10" fill="#5402a3" stroke="#5402a3" stroke-width="0.8" stroke-linejoin="miter"/><polygon points="134.00,241.84 131.50,236.84 136.50,236.84" fill="#5402a3" stroke="#5402a3" stroke-width="0.8" stroke-linejoin="miter"/><polygon points="134.94,244.95 132.44,239.95 137.44,239.95" fill="#5402a3" stroke="#5402a3" stroke-width="0.8" stroke-linejoin="miter"/><polygon points="135.85,242.21 133.35,237.21 138.35,237.21" fill="#5402a3" stroke="#5402a3" stroke-width="0.8" stroke-linejoin="miter"/><polygon points="136.72,246.13 134.22,241.13 139.22,241.13" fill="#5402a3" stroke="#5402a3" stroke-width="0.8" stroke-linejoin="miter"/><polygon points="137.56,245.15 135.06,240.15 140.06,240.15" fill="#5402a3" stroke="#5402a3" stroke-width="0.8" stroke-linejoin="miter"/><polygon points="138.37,246.53 135.87,241.53 140.87,241.53" fill="#5402a3" stroke="#5402a3" stroke-width="0.8" stroke-linejoin="miter"/><polygon points="139.14,246.78 136.64,241.78 141.64,241.78" fill="#5402a3" stroke="#5402a3" stroke-width="0.8" stroke-linejoin="miter"/><polygon points="139.90,248.84 137.40,243.84 142.40,243.84" fill="#5402a3" stroke="#5402a3" stroke-width="0.8" stroke-linejoin="miter"/><polygon points="141.33,248.34 138.83,243.34 143.83,243.34" fill="#5402a3" stroke="#5402a3" stroke-width="0.8" stroke-linejoin="miter"/><polygon points="142.67,250.56 140.17,245.56 145.17,245.56" fill="#5402a3" stroke="#5402a3" stroke-width="0.8" stroke-linejoin="miter"/><polygon points="143.94,252.08 141.44,247.08 146.44,247.08" fill="#5402a3" stroke="#5402a3" stroke-width="0.8" stroke-linejoin="miter"/><polygon points="145.14,254.60 142.64,249.60 147.64,249.60" fill="#5402a3" stroke="#5402a3" stroke-width="0.8" stroke-linejoin="miter"/><polygon points="146.28,251.34 143.78,246.34 148.78,246.34" fill="#5402a3" stroke="#5402a3" stroke-width="0.8" stroke-linejoin="miter"/><polygon points="147.36,256.21 144.86,251.21 149.86,251.21" fill="#5402a3" stroke="#5402a3" stroke-width="0.8" stroke-linejoin="miter"/><polygon points="148.40,256.52 145.90,251.52 150.90,251.52" fill="#5402a3" stroke="#5402a3" stroke-width="0.8" stroke-linejoin="miter"/><polygon points="149.38,255.94 146.88,250.94 151.88,250.94" fill="#5402a3" stroke="#5402a3" stroke-width="0.8" stroke-linejoin="miter"/><polygon points="150.33,257.54 147.83,252.54 152.83,252.54" fill="#5402a3" stroke="#5402a3" stroke-width="0.8" stroke-linejoin="miter"/><polygon points="151.23,257.82 148.73,252.82 153.73,252.82" fill="#5402a3" stroke="#5402a3" stroke-width="0.8" stroke-linejoin="miter"/><polygon points="152.10,260.95 149.60,255.95 154.60,255.95" fill="#5402a3" stroke="#5402a3" stroke-width="0.8" stroke-linejoin="miter"/><polygon points="152.94,260.50 150.44,255.50 155.44,255.50" fill="#5402a3" stroke="#5402a3" stroke-width="0.8" stroke-linejoin="miter"/><polygon points="153.75,261.03 151.25,256.03 156.25,256.03" fill="#5402a3" stroke="#5402a3" stroke-width="0.8" stroke-linejoin="miter"/><polygon points="154.53,261.93 152.03,256.93 157.03,256.93" fill="#5402a3" stroke="#5402a3" stroke-width="0.8" stroke-linejoin="miter"/><polygon points="155.28,262.85 152.78,257.85 157.78,257.85" fill="#5402a3" stroke="#5402a3" stroke-width="0.8" stroke-linejoin="miter"/><polygon points="156.01,263.73 153.51,258.73 158.51,258.73" fill="#5402a3" stroke="#5402a3" stroke-width="0.8" stroke-linejoin="miter"/><polygon points="156.71,263.86 154.21,258.86 159.21,258.86" fill="#5402a3" stroke="#5402a3" stroke-width="0.8" stroke-linejoin="miter"/><polygon points="157.39,267.60 154.89,262.60 159.89,262.60" fill="#5402a3" stroke="#5402a3" stroke-width="0.8" stroke-linejoin="miter"/><polygon points="158.06,264.41 155.56,259.41 160.56,259.41" fill="#5402a3" stroke="#5402a3" stroke-width="0.8" stroke-linejoin="miter"/><polygon points="158.70,263.47 156.20,258.47 161.20,258.47" fill="#5402a3" stroke="#5402a3" stroke-width="0.8" stroke-linejoin="miter"/><polygon points="159.33,267.69 156.83,262.69 161.83,262.69" fill="#5402a3" stroke="#5402a3" stroke-width="0.8" stroke-linejoin="miter"/><polygon points="159.93,268.39 157.43,263.39 162.43,263.39" fill="#5402a3" stroke="#5402a3" stroke-width="0.8" stroke-linejoin="miter"/><polygon points="162.45,272.14 159.95,267.14 164.95,267.14" fill="#5402a3" stroke="#5402a3" stroke-width="0.8" stroke-linejoin="miter"/><polygon points="164.96,275.34 162.46,270.34 167.46,270.34" fill="#5402a3" stroke="#5402a3" stroke-width="0.8" stroke-linejoin="miter"/><polygon points="167.48,279.51 164.98,274.51 169.98,274.51" fill="#5402a3" stroke="#5402a3" stroke-width="0.8" stroke-linejoin="miter"/><polygon points="169.99,282.55 167.49,277.55 172.49,277.55" fill="#5402a3" stroke="#5402a3" stroke-width="0.8" stroke-linejoin="miter"/><polygon points="171.57,283.85 169.07,278.85 174.07,278.85" fill="#5402a3" stroke="#5402a3" stroke-width="0.8" stroke-linejoin="miter"/><polygon points="172.40,278.90 169.90,273.90 174.90,273.90" fill="#5402a3" stroke="#5402a3" stroke-width="0.8" stroke-linejoin="miter"/><polygon points="168.80,271.70 166.30,266.70 171.30,266.70" fill="#5402a3" stroke="#5402a3" stroke-width="0.8" stroke-linejoin="miter"/><polygon points="164.00,283.50 161.50,278.50 166.50,278.50" fill="#5402a3" stroke="#5402a3" stroke-width="0.8" stroke-linejoin="miter"/><polygon points="73.40,196.39 70.90,201.39 75.90,201.39" fill="#8b0aa5" stroke="#8b0aa5" stroke-width="0.8" stroke-linejoin="miter"/><polygon points="88.78,208.84 86.28,213.84 91.28,213.84" fill="#8b0aa5" stroke="#8b0aa5" stroke-width="0.8" stroke-linejoin="miter"/><polygon points="97.78,212.33 95.28,217.33 100.28,217.33" fill="#8b0aa5" stroke="#8b0aa5" stroke-width="0.8" stroke-linejoin="miter"/><polygon points="104.16,215.07 101.66,220.07 106.66,220.07" fill="#8b0aa5" stroke="#8b0aa5" stroke-width="0.8" stroke-linejoin="miter"/><polygon points="109.11,217.70 106.61,222.70 111.61,222.70" fill="#8b0aa5" stroke="#8b0aa5" stroke-width="0.8" stroke-linejoin="miter"/><polygon points="113.16,221.87 110.66,226.87 115.66,226.87" fill="#8b0aa5" stroke="#8b0aa5" stroke-width="0.8" stroke-linejoin="miter"/><polygon points="116.58,223.20 114.08,228.20 119.08,228.20" fill="#8b0aa5" stroke="#8b0aa5" stroke-width="0.8" stroke-linejoin="miter"/><polygon points="119.54,225.29 117.04,230.29 122.04,230.29" fill="#8b0aa5" stroke="#8b0aa5" stroke-width="0.8" stroke-linejoin="miter"/><polygon points="122.16,227.35 119.66,232.35 124.66,232.35" fill="#8b0aa5" stroke="#8b0aa5" stroke-width="0.8" stroke-linejoin="miter"/><polygon points="124.50,230.24 122.00,235.24 127.00,235.24" fill="#8b0aa5" stroke="#8b0aa5" stroke-width="0.8" stroke-linejoin="miter"/><polygon points="126.61,233.76 124.11,238.76 129.11,238.76" fill="#8b0aa5" stroke="#8b0aa5" stroke-width="0.8" stroke-linejoin="miter"/><polygon points="128.54,233.96 126.04,238.96 131.04,238.96" fill="#8b0aa5" stroke="#8b0aa5" stroke-width="0.8" stroke-linejoin="miter"/><polygon points="130.32,234.57 127.82,239.57 132.82,239.57" fill="#8b0aa5" stroke="#8b0aa5" stroke-width="0.8" stroke-linejoin="miter"/><polygon points="131.96,238.31 129.46,243.31 134.46,243.31" fill="#8b0aa5" stroke="#8b0aa5" stroke-width="0.8" stroke-linejoin="miter"/><polygon points="133.49,239.23 130.99,244.23 135.99,244.23" fill="#8b0aa5" stroke="#8b0aa5" stroke-width="0.8" stroke-linejoin="miter"/><polygon points="134.93,241.42 132.43,246.42 137.43,246.42" fill="#8b0aa5" stroke="#8b0aa5" stroke-width="0.8" stroke-linejoin="miter"/><polygon points="136.27,243.11 133.77,248.11 138.77,248.11" fill="#8b0aa5" stroke="#8b0aa5" stroke-width="0.8" stroke-linejoin="miter"/><polygon points="137.54,243.00 135.04,248.00 140.04,248.00" fill="#8b0aa5" stroke="#8b0aa5" stroke-width="0.8" stroke-linejoin="miter"/><polygon points="138.74,244.21 136.24,249.21 141.24,249.21" fill="#8b0aa5" stroke="#8b0aa5" stroke-width="0.8" stroke-linejoin="miter"/><polygon points="139.88,245.44 137.38,250.44 142.38,250.44" fill="#8b0aa5" stroke="#8b0aa5" stroke-width="0.8" stroke-linejoin="miter"/><polygon points="140.96,245.32 138.46,250.32 143.46,250.32" fill="#8b0aa5" stroke="#8b0aa5" stroke-width="0.8" stroke-linejoin="miter"/><polygon points="141.99,248.02 139.49,253.02 144.49,253.02" fill="#8b0aa5" stroke="#8b0aa5" stroke-width="0.8" stroke-linejoin="miter"/><polygon points="142.98,249.57 140.48,254.57 145.48,254.57" fill="#8b0aa5" stroke="#8b0aa5" stroke-width="0.8" stroke-linejoin="miter"/><polygon points="143.92,249.19 141.42,254.19 146.42,254.19" fill="#8b0aa5" stroke="#8b0aa5" stroke-width="0.8" stroke-linejoin="miter"/><polygon points="144.83,249.56 142.33,254.56 147.33,254.56" fill="#8b0aa5" stroke="#8b0aa5" stroke-width="0.8" stroke-linejoin="miter"/><polygon points="145.70,250.29 143.20,255.29 148.20,255.29" fill="#8b0aa5" stroke="#8b0aa5" stroke-width="0.8" stroke-linejoin="miter"/><polygon points="146.54,250.49 144.04,255.49 149.04,255.49" fill="#8b0aa5" stroke="#8b0aa5" stroke-width="0.8" stroke-linejoin="miter"/><polygon points="147.34,251.16 144.84,256.16 149.84,256.16" fill="#8b0aa5" stroke="#8b0aa5" stroke-width="0.8" stroke-linejoin="miter"/><polygon points="148.12,252.24 145.62,257.24 150.62,257.24" fill="#8b0aa5" stroke="#8b0aa5" stroke-width="0.8" stroke-linejoin="miter"/><polygon points="148.88,252.44 146.38,257.44 151.38,257.44" fill="#8b0aa5" stroke="#8b0aa5" stroke-width="0.8" stroke-linejoin="miter"/><polygon points="150.31,254.08 147.81,259.08 152.81,259.08" fill="#8b0aa5" stroke="#8b0aa5" stroke-width="0.8" stroke-linejoin="miter"/><polygon points="151.65,254.50 149.15,259.50 154.15,259.50" fill="#8b0aa5" stroke="#8b0aa5" stroke-width="0.8" stroke-linejoin="miter"/><polygon points="152.92,257.92 150.42,262.92 155.42,262.92" fill="#8b0aa5" stroke="#8b0aa5" stroke-width="0.8" stroke-linejoin="miter"/><polygon points="154.12,259.03 151.62,264.03 156.62,264.03" fill="#8b0aa5" stroke="#8b0aa5" stroke-width="0.8" stroke-linejoin="miter"/><polygon points="155.26,259.17 152.76,264.17 157.76,264.17" fill="#8b0aa5" stroke="#8b0aa5" stroke-width="0.8" stroke-linejoin="miter"/><polygon points="156.34,259.30 153.84,264.30 158.84,264.30" fill="#8b0aa5" stroke="#8b0aa5" stroke-width="0.8" stroke-linejoin="miter"/><polygon points="157.38,262.81 154.88,267.81 159.88,267.81" fill="#8b0aa5" stroke="#8b0aa5" stroke-width="0.8" stroke-linejoin="miter"/><polygon points="158.36,265.08 155.86,270.08 160.86,270.08" fill="#8b0aa5" stroke="#8b0aa5" stroke-width="0.8" stroke-linejoin="miter"/><polygon points="159.31,264.36 156.81,269.36 161.81,269.36" fill="#8b0aa5" stroke="#8b0aa5" stroke-width="0.8" stroke-linejoin="miter"/><polygon points="160.21,265.68 157.71,270.68 162.71,270.68" fill="#8b0aa5" stroke="#8b0aa5" stroke-width="0.8" stroke-linejoin="miter"/><polygon points="161.08,267.06 158.58,272.06 163.58,272.06" fill="#8b0aa5" stroke="#8b0aa5" stroke-width="0.8" stroke-linejoin="miter"/><polygon points="161.92,268.02 159.42,273.02 164.42,273.02" fill="#8b0aa5" stroke="#8b0aa5" stroke-width="0.8" stroke-linejoin="miter"/><polygon points="162.73,269.71 160.23,274.71 165.23,274.71" fill="#8b0aa5" stroke="#8b0aa5" stroke-width="0.8" stroke-linejoin="miter"/><polygon points="163.51,270.54 161.01,275.54 166.01,275.54" fill="#8b0aa5" stroke="#8b0aa5" stroke-width="0.8" stroke-linejoin="miter"/><polygon points="164.26,269.83 161.76,274.83 166.76,274.83" fill="#8b0aa5" stroke="#8b0aa5" stroke-width="0.8" stroke-linejoin="miter"/><polygon points="164.99,272.72 162.49,277.72 167.49,277.72" fill="#8b0aa5" stroke="#8b0aa5" stroke-width="0.8" stroke-linejoin="miter"/><polygon points="167.50,275.99 165.00,280.99 170.00,280.99" fill="#8b0aa5" stroke="#8b0aa5" stroke-width="0.8" stroke-linejoin="miter"/><polygon points="170.02,280.18 167.52,285.18 172.52,285.18" fill="#8b0aa5" stroke="#8b0aa5" stroke-width="0.8" stroke-linejoin="miter"/><polygon points="172.53,281.89 170.03,286.89 175.03,286.89" fill="#8b0aa5" stroke="#8b0aa5" stroke-width="0.8" stroke-linejoin="miter"/><polygon points="175.05,285.25 172.55,290.25 177.55,290.25" fill="#8b0aa5" stroke="#8b0aa5" stroke-width="0.8" stroke-linejoin="miter"/><polygon points="176.50,287.79 174.00,292.79 179.00,292.79" fill="#8b0aa5" stroke="#8b0aa5" stroke-width="0.8" stroke-linejoin="miter"/><polygon points="78.82,203.38 83.82,200.88 83.82,205.88" fill="#b83289" stroke="#b83289" stroke-width="0.8" stroke-linejoin="miter"/><polygon points="94.20,213.95 99.20,211.45 99.20,216.45" fill="#b83289" stroke="#b83289" stroke-width="0.8" stroke-linejoin="miter"/><polygon points="103.20,218.87 108.20,216.37 108.20,221.37" fill="#b83289" stroke="#b83289" stroke-width="0.8" stroke-linejoin="miter"/><polygon points="109.58,222.80 114.58,220.30 114.58,225.30" fill="#b83289" stroke="#b83289" stroke-width="0.8" stroke-linejoin="miter"/><polygon points="114.53,228.33 119.53,225.83 119.53,230.83" fill="#b83289" stroke="#b83289" stroke-width="0.8" stroke-linejoin="miter"/><polygon points="118.58,231.19 123.58,228.69 123.58,233.69" fill="#b83289" stroke="#b83289" stroke-width="0.8" stroke-linejoin="miter"/><polygon points="122.00,232.73 127.00,230.23 127.00,235.23" fill="#b83289" stroke="#b83289" stroke-width="0.8" stroke-linejoin="miter"/><polygon points="124.96,236.20 129.96,233.70 129.96,238.70" fill="#b83289" stroke="#b83289" stroke-width="0.8" stroke-linejoin="miter"/><polygon points="127.58,238.98 132.58,236.48 132.58,241.48" fill="#b83289" stroke="#b83289" stroke-width="0.8" stroke-linejoin="miter"/><polygon points="129.92,240.15 134.92,237.65 134.92,242.65" fill="#b83289" stroke="#b83289" stroke-width="0.8" stroke-linejoin="miter"/><polygon points="132.03,242.77 137.03,240.27 137.03,245.27" fill="#b83289" stroke="#b83289" stroke-width="0.8" stroke-linejoin="miter"/><polygon points="133.96,245.47 138.96,242.97 138.96,247.97" fill="#b83289" stroke="#b83289" stroke-width="0.8" stroke-linejoin="miter"/><polygon points="135.74,244.77 140.74,242.27 140.74,247.27" fill="#b83289" stroke="#b83289" stroke-width="0.8" stroke-linejoin="miter"/><polygon points="137.38,248.51 142.38,246.01 142.38,251.01" fill="#b83289" stroke="#b83289" stroke-width="0.8" stroke-linejoin="miter"/><polygon points="138.91,250.29 143.91,247.79 143.91,252.79" fill="#b83289" stroke="#b83289" stroke-width="0.8" stroke-linejoin="miter"/><polygon points="140.35,251.29 145.35,248.79 145.35,253.79" fill="#b83289" stroke="#b83289" stroke-width="0.8" stroke-linejoin="miter"/><polygon points="141.69,250.60 146.69,248.10 146.69,253.10" fill="#b83289" stroke="#b83289" stroke-width="0.8" stroke-linejoin="miter"/><polygon points="142.96,253.36 147.96,250.86 147.96,255.86" fill="#b83289" stroke="#b83289" stroke-width="0.8" stroke-linejoin="miter"/><polygon points="144.16,253.21 149.16,250.71 149.16,255.71" fill="#b83289" stroke="#b83289" stroke-width="0.8" stroke-linejoin="miter"/><polygon points="145.30,255.63 150.30,253.13 150.30,258.13" fill="#b83289" stroke="#b83289" stroke-width="0.8" stroke-linejoin="miter"/><polygon points="146.38,256.59 151.38,254.09 151.38,259.09" fill="#b83289" stroke="#b83289" stroke-width="0.8" stroke-linejoin="miter"/><polygon points="147.41,257.10 152.41,254.60 152.41,259.60" fill="#b83289" stroke="#b83289" stroke-width="0.8" stroke-linejoin="miter"/><polygon points="148.40,257.12 153.40,254.62 153.40,259.62" fill="#b83289" stroke="#b83289" stroke-width="0.8" stroke-linejoin="miter"/><polygon points="149.34,258.41 154.34,255.91 154.34,260.91" fill="#b83289" stroke="#b83289" stroke-width="0.8" stroke-linejoin="miter"/><polygon points="150.25,260.92 155.25,258.42 155.25,263.42" fill="#b83289" stroke="#b83289" stroke-width="0.8" stroke-linejoin="miter"/><polygon points="151.12,260.20 156.12,257.70 156.12,262.70" fill="#b83289" stroke="#b83289" stroke-width="0.8" stroke-linejoin="miter"/><polygon points="151.96,262.58 156.96,260.08 156.96,265.08" fill="#b83289" stroke="#b83289" stroke-width="0.8" stroke-linejoin="miter"/><polygon points="152.77,263.54 157.77,261.04 157.77,266.04" fill="#b83289" stroke="#b83289" stroke-width="0.8" stroke-linejoin="miter"/><polygon points="153.54,263.67 158.54,261.17 158.54,266.17" fill="#b83289" stroke="#b83289" stroke-width="0.8" stroke-linejoin="miter"/><polygon points="154.30,267.23 159.30,264.73 159.30,269.73" fill="#b83289" stroke="#b83289" stroke-width="0.8" stroke-linejoin="miter"/><polygon points="155.73,266.59 160.73,264.09 160.73,269.09" fill="#b83289" stroke="#b83289" stroke-width="0.8" stroke-linejoin="miter"/><polygon points="157.07,270.26 162.07,267.76 162.07,272.76" fill="#b83289" stroke="#b83289" stroke-width="0.8" stroke-linejoin="miter"/><polygon points="158.34,266.53 163.34,264.03 163.34,269.03" fill="#b83289" stroke="#b83289" stroke-width="0.8" stroke-linejoin="miter"/><polygon points="159.54,272.61 164.54,270.11 164.54,275.11" fill="#b83289" stroke="#b83289" stroke-width="0.8" stroke-linejoin="miter"/><polygon points="160.68,272.53 165.68,270.03 165.68,275.03" fill="#b83289" stroke="#b83289" stroke-width="0.8" stroke-linejoin="miter"/><polygon points="161.76,272.14 166.76,269.64 166.76,274.64" fill="#b83289" stroke="#b83289" stroke-width="0.8" stroke-linejoin="miter"/><polygon points="164.28,276.66 169.28,274.16 169.28,279.16" fill="#b83289" stroke="#b83289" stroke-width="0.8" stroke-linejoin="miter"/><polygon points="166.79,282.03 171.79,279.53 171.79,284.53" fill="#b83289" stroke="#b83289" stroke-width="0.8" stroke-linejoin="miter"/><polygon points="169.31,284.12 174.31,281.62 174.31,286.62" fill="#b83289" stroke="#b83289" stroke-width="0.8" stroke-linejoin="miter"/><polygon points="171.82,286.70 176.82,284.20 176.82,289.20" fill="#b83289" stroke="#b83289" stroke-width="0.8" stroke-linejoin="miter"/><polygon points="174.00,290.76 179.00,288.26 179.00,293.26" fill="#b83289" stroke="#b83289" stroke-width="0.8" stroke-linejoin="miter"/><polygon points="178.00,284.80 183.00,282.30 183.00,287.30" fill="#b83289" stroke="#b83289" stroke-width="0.8" stroke-linejoin="miter"/><polygon points="174.00,281.60 179.00,279.10 179.00,284.10" fill="#b83289" stroke="#b83289" stroke-width="0.8" stroke-linejoin="miter"/><polygon points="90.90,207.40 85.90,204.90 85.90,209.90" fill="#db5c68" stroke="#db5c68" stroke-width="0.8" stroke-linejoin="miter"/><polygon points="106.28,216.93 101.28,214.43 101.28,219.43" fill="#db5c68" stroke="#db5c68" stroke-width="0.8" stroke-linejoin="miter"/><polygon points="115.28,225.61 110.28,223.11 110.28,228.11" fill="#db5c68" stroke="#db5c68" stroke-width="0.8" stroke-linejoin="miter"/><polygon points="121.67,227.47 116.67,224.97 116.67,229.97" fill="#db5c68" stroke="#db5c68" stroke-width="0.8" stroke-linejoin="miter"/><polygon points="126.62,233.87 121.62,231.37 121.62,236.37" fill="#db5c68" stroke="#db5c68" stroke-width="0.8" stroke-linejoin="miter"/><polygon points="130.66,235.68 125.66,233.18 125.66,238.18" fill="#db5c68" stroke="#db5c68" stroke-width="0.8" stroke-linejoin="miter"/><polygon points="134.08,241.32 129.08,238.82 129.08,243.82" fill="#db5c68" stroke="#db5c68" stroke-width="0.8" stroke-linejoin="miter"/><polygon points="137.05,242.74 132.05,240.24 132.05,245.24" fill="#db5c68" stroke="#db5c68" stroke-width="0.8" stroke-linejoin="miter"/><polygon points="139.66,245.59 134.66,243.09 134.66,248.09" fill="#db5c68" stroke="#db5c68" stroke-width="0.8" stroke-linejoin="miter"/><polygon points="142.00,248.25 137.00,245.75 137.00,250.75" fill="#db5c68" stroke="#db5c68" stroke-width="0.8" stroke-linejoin="miter"/><polygon points="144.12,248.79 139.12,246.29 139.12,251.29" fill="#db5c68" stroke="#db5c68" stroke-width="0.8" stroke-linejoin="miter"/><polygon points="146.05,250.04 141.05,247.54 141.05,252.54" fill="#db5c68" stroke="#db5c68" stroke-width="0.8" stroke-linejoin="miter"/><polygon points="147.82,250.59 142.82,248.09 142.82,253.09" fill="#db5c68" stroke="#db5c68" stroke-width="0.8" stroke-linejoin="miter"/><polygon points="149.47,255.26 144.47,252.76 144.47,257.76" fill="#db5c68" stroke="#db5c68" stroke-width="0.8" stroke-linejoin="miter"/><polygon points="151.00,254.66 146.00,252.16 146.00,257.16" fill="#db5c68" stroke="#db5c68" stroke-width="0.8" stroke-linejoin="miter"/><polygon points="152.43,256.00 147.43,253.50 147.43,258.50" fill="#db5c68" stroke="#db5c68" stroke-width="0.8" stroke-linejoin="miter"/><polygon points="153.78,258.00 148.78,255.50 148.78,260.50" fill="#db5c68" stroke="#db5c68" stroke-width="0.8" stroke-linejoin="miter"/><polygon points="155.04,261.52 150.04,259.02 150.04,264.02" fill="#db5c68" stroke="#db5c68" stroke-width="0.8" stroke-linejoin="miter"/><polygon points="156.24,259.21 151.24,256.71 151.24,261.71" fill="#db5c68" stroke="#db5c68" stroke-width="0.8" stroke-linejoin="miter"/><polygon points="157.38,262.53 152.38,260.03 152.38,265.03" fill="#db5c68" stroke="#db5c68" stroke-width="0.8" stroke-linejoin="miter"/><polygon points="158.47,263.16 153.47,260.66 153.47,265.66" fill="#db5c68" stroke="#db5c68" stroke-width="0.8" stroke-linejoin="miter"/><polygon points="159.50,265.31 154.50,262.81 154.50,267.81" fill="#db5c68" stroke="#db5c68" stroke-width="0.8" stroke-linejoin="miter"/><polygon points="160.48,264.14 155.48,261.64 155.48,266.64" fill="#db5c68" stroke="#db5c68" stroke-width="0.8" stroke-linejoin="miter"/><polygon points="161.43,266.65 156.43,264.15 156.43,269.15" fill="#db5c68" stroke="#db5c68" stroke-width="0.8" stroke-linejoin="miter"/><polygon points="162.33,268.96 157.33,266.46 157.33,271.46" fill="#db5c68" stroke="#db5c68" stroke-width="0.8" stroke-linejoin="miter"/><polygon points="163.21,271.54 158.21,269.04 158.21,274.04" fill="#db5c68" stroke="#db5c68" stroke-width="0.8" stroke-linejoin="miter"/><polygon points="164.04,269.50 159.04,267.00 159.04,272.00" fill="#db5c68" stroke="#db5c68" stroke-width="0.8" stroke-linejoin="miter"/><polygon points="164.85,270.64 159.85,268.14 159.85,273.14" fill="#db5c68" stroke="#db5c68" stroke-width="0.8" stroke-linejoin="miter"/><polygon points="165.63,271.44 160.63,268.94 160.63,273.94" fill="#db5c68" stroke="#db5c68" stroke-width="0.8" stroke-linejoin="miter"/><polygon points="166.38,273.71 161.38,271.21 161.38,276.21" fill="#db5c68" stroke="#db5c68" stroke-width="0.8" stroke-linejoin="miter"/><polygon points="168.90,277.69 163.90,275.19 163.90,280.19" fill="#db5c68" stroke="#db5c68" stroke-width="0.8" stroke-linejoin="miter"/><polygon points="171.41,280.90 166.41,278.40 166.41,283.40" fill="#db5c68" stroke="#db5c68" stroke-width="0.8" stroke-linejoin="miter"/><polygon points="173.93,283.53 168.93,281.03 168.93,286.03" fill="#db5c68" stroke="#db5c68" stroke-width="0.8" stroke-linejoin="miter"/><polygon points="176.44,286.64 171.44,284.14 171.44,289.14" fill="#db5c68" stroke="#db5c68" stroke-width="0.8" stroke-linejoin="miter"/><polygon points="179.00,291.35 174.00,288.85 174.00,293.85" fill="#db5c68" stroke="#db5c68" stroke-width="0.8" stroke-linejoin="miter"/><polygon points="191.00,297.00 186.00,294.50 186.00,299.50" fill="#db5c68" stroke="#db5c68" stroke-width="0.8" stroke-linejoin="miter"/><rect x="92.31" y="208.54" width="5.00" height="5.00" fill="#f48849" stroke="#f48849" stroke-width="0.8"/><rect x="107.69" y="218.48" width="5.00" height="5.00" fill="#f48849" stroke="#f48849" stroke-width="0.8"/><rect x="116.69" y="226.28" width="5.00" height="5.00" fill="#f48849" stroke="#f48849" stroke-width="0.8"/><rect x="123.07" y="231.53" width="5.00" height="5.00" fill="#f48849" stroke="#f48849" stroke-width="0.8"/><rect x="128.03" y="235.07" width="5.00" height="5.00" fill="#f48849" stroke="#f48849" stroke-width="0.8"/><rect x="132.07" y="240.22" width="5.00" height="5.00" fill="#f48849" stroke="#f48849" stroke-width="0.8"/><rect x="135.49" y="241.96" width="5.00" height="5.00" fill="#f48849" stroke="#f48849" stroke-width="0.8"/><rect x="138.46" y="246.81" width="5.00" height="5.00" fill="#f48849" stroke="#f48849" stroke-width="0.8"/><rect x="141.07" y="247.10" width="5.00" height="5.00" fill="#f48849" stroke="#f48849" stroke-width="0.8"/><rect x="143.41" y="249.44" width="5.00" height="5.00" fill="#f48849" stroke="#f48849" stroke-width="0.8"/><rect x="145.52" y="252.07" width="5.00" height="5.00" fill="#f48849" stroke="#f48849" stroke-width="0.8"/><rect x="147.46" y="254.25" width="5.00" height="5.00" fill="#f48849" stroke="#f48849" stroke-width="0.8"/><rect x="149.23" y="256.28" width="5.00" height="5.00" fill="#f48849" stroke="#f48849" stroke-width="0.8"/><rect x="150.88" y="258.20" width="5.00" height="5.00" fill="#f48849" stroke="#f48849" stroke-width="0.8"/><rect x="152.41" y="258.90" width="5.00" height="5.00" fill="#f48849" stroke="#f48849" stroke-width="0.8"/><rect x="153.84" y="259.84" width="5.00" height="5.00" fill="#f48849" stroke="#f48849" stroke-width="0.8"/><rect x="155.18" y="262.93" width="5.00" height="5.00" fill="#f48849" stroke="#f48849" stroke-width="0.8"/><rect x="156.45" y="264.18" width="5.00" height="5.00" fill="#f48849" stroke="#f48849" stroke-width="0.8"/><rect x="157.65" y="264.34" width="5.00" height="5.00" fill="#f48849" stroke="#f48849" stroke-width="0.8"/><rect x="158.79" y="267.86" width="5.00" height="5.00" fill="#f48849" stroke="#f48849" stroke-width="0.8"/><rect x="159.87" y="267.53" width="5.00" height="5.00" fill="#f48849" stroke="#f48849" stroke-width="0.8"/><rect x="160.91" y="267.92" width="5.00" height="5.00" fill="#f48849" stroke="#f48849" stroke-width="0.8"/><rect x="161.89" y="270.66" width="5.00" height="5.00" fill="#f48849" stroke="#f48849" stroke-width="0.8"/><rect x="164.41" y="273.84" width="5.00" height="5.00" fill="#f48849" stroke="#f48849" stroke-width="0.8"/><rect x="166.92" y="278.15" width="5.00" height="5.00" fill="#f48849" stroke="#f48849" stroke-width="0.8"/><rect x="169.44" y="280.19" width="5.00" height="5.00" fill="#f48849" stroke="#f48849" stroke-width="0.8"/><rect x="171.95" y="283.86" width="5.00" height="5.00" fill="#f48849" stroke="#f48849" stroke-width="0.8"/><rect x="174.00" y="286.45" width="5.00" height="5.00" fill="#f48849" stroke="#f48849" stroke-width="0.8"/><rect x="182.50" y="288.20" width="5.00" height="5.00" fill="#f48849" stroke="#f48849" stroke-width="0.8"/><rect x="191.40" y="296.30" width="5.00" height="5.00" fill="#f48849" stroke="#f48849" stroke-width="0.8"/><polygon points="100.66,210.82 104.20,214.36 100.66,217.89 97.12,214.36" fill="#febd2a" stroke="#febd2a" stroke-width="0.8" stroke-linejoin="miter"/><polygon points="116.04,222.20 119.58,225.74 116.04,229.27 112.51,225.74" fill="#febd2a" stroke="#febd2a" stroke-width="0.8" stroke-linejoin="miter"/><polygon points="125.04,229.80 128.58,233.33 125.04,236.87 121.51,233.33" fill="#febd2a" stroke="#febd2a" stroke-width="0.8" stroke-linejoin="miter"/><polygon points="131.43,234.40 134.96,237.94 131.43,241.47 127.89,237.94" fill="#febd2a" stroke="#febd2a" stroke-width="0.8" stroke-linejoin="miter"/><polygon points="136.38,241.10 139.91,244.63 136.38,248.17 132.84,244.63" fill="#febd2a" stroke="#febd2a" stroke-width="0.8" stroke-linejoin="miter"/><polygon points="140.42,242.60 143.96,246.13 140.42,249.67 136.89,246.13" fill="#febd2a" stroke="#febd2a" stroke-width="0.8" stroke-linejoin="miter"/><polygon points="143.84,246.52 147.38,250.06 143.84,253.59 140.31,250.06" fill="#febd2a" stroke="#febd2a" stroke-width="0.8" stroke-linejoin="miter"/><polygon points="146.81,250.28 150.34,253.81 146.81,257.35 143.27,253.81" fill="#febd2a" stroke="#febd2a" stroke-width="0.8" stroke-linejoin="miter"/><polygon points="149.42,252.73 152.96,256.27 149.42,259.80 145.89,256.27" fill="#febd2a" stroke="#febd2a" stroke-width="0.8" stroke-linejoin="miter"/><polygon points="151.76,255.15 155.30,258.68 151.76,262.22 148.22,258.68" fill="#febd2a" stroke="#febd2a" stroke-width="0.8" stroke-linejoin="miter"/><polygon points="153.88,255.26 157.41,258.80 153.88,262.34 150.34,258.80" fill="#febd2a" stroke="#febd2a" stroke-width="0.8" stroke-linejoin="miter"/><polygon points="155.81,256.85 159.34,260.39 155.81,263.92 152.27,260.39" fill="#febd2a" stroke="#febd2a" stroke-width="0.8" stroke-linejoin="miter"/><polygon points="157.58,261.12 161.12,264.65 157.58,268.19 154.05,264.65" fill="#febd2a" stroke="#febd2a" stroke-width="0.8" stroke-linejoin="miter"/><polygon points="159.23,261.23 162.76,264.77 159.23,268.30 155.69,264.77" fill="#febd2a" stroke="#febd2a" stroke-width="0.8" stroke-linejoin="miter"/><polygon points="160.76,263.75 164.29,267.28 160.76,270.82 157.22,267.28" fill="#febd2a" stroke="#febd2a" stroke-width="0.8" stroke-linejoin="miter"/><polygon points="162.19,267.94 165.73,271.48 162.19,275.02 158.65,271.48" fill="#febd2a" stroke="#febd2a" stroke-width="0.8" stroke-linejoin="miter"/><polygon points="163.54,268.89 167.07,272.43 163.54,275.96 160.00,272.43" fill="#febd2a" stroke="#febd2a" stroke-width="0.8" stroke-linejoin="miter"/><polygon points="164.80,269.96 168.34,273.50 164.80,277.03 161.27,273.50" fill="#febd2a" stroke="#febd2a" stroke-width="0.8" stroke-linejoin="miter"/><polygon points="167.32,274.02 170.85,277.55 167.32,281.09 163.78,277.55" fill="#febd2a" stroke="#febd2a" stroke-width="0.8" stroke-linejoin="miter"/><polygon points="169.83,276.97 173.37,280.51 169.83,284.04 166.30,280.51" fill="#febd2a" stroke="#febd2a" stroke-width="0.8" stroke-linejoin="miter"/><polygon points="172.35,281.75 175.88,285.28 172.35,288.82 168.81,285.28" fill="#febd2a" stroke="#febd2a" stroke-width="0.8" stroke-linejoin="miter"/><polygon points="174.86,284.75 178.40,288.28 174.86,291.82 171.33,288.28" fill="#febd2a" stroke="#febd2a" stroke-width="0.8" stroke-linejoin="miter"/><polygon points="176.50,283.66 180.04,287.19 176.50,290.73 172.96,287.19" fill="#febd2a" stroke="#febd2a" stroke-width="0.8" stroke-linejoin="miter"/><polygon points="198.70,298.46 202.24,302.00 198.70,305.54 195.16,302.00" fill="#febd2a" stroke="#febd2a" stroke-width="0.8" stroke-linejoin="miter"/><polygon points="177.80,289.86 181.34,293.40 177.80,296.94 174.26,293.40" fill="#febd2a" stroke="#febd2a" stroke-width="0.8" stroke-linejoin="miter"/></g>
<g clip-path="url(#clipD)"><circle cx="314.03" cy="209.06" r="2.50" fill="#0d0887" stroke="#0d0887" stroke-width="0.8"/><circle cx="336.61" cy="221.01" r="2.50" fill="#0d0887" stroke="#0d0887" stroke-width="0.8"/><circle cx="349.81" cy="232.34" r="2.50" fill="#0d0887" stroke="#0d0887" stroke-width="0.8"/><circle cx="359.18" cy="236.47" r="2.50" fill="#0d0887" stroke="#0d0887" stroke-width="0.8"/><circle cx="366.45" cy="245.53" r="2.50" fill="#0d0887" stroke="#0d0887" stroke-width="0.8"/><circle cx="372.39" cy="248.59" r="2.50" fill="#0d0887" stroke="#0d0887" stroke-width="0.8"/><circle cx="377.41" cy="258.60" r="2.50" fill="#0d0887" stroke="#0d0887" stroke-width="0.8"/><circle cx="381.10" cy="261.96" r="2.50" fill="#0d0887" stroke="#0d0887" stroke-width="0.8"/><circle cx="384.79" cy="267.17" r="2.50" fill="#0d0887" stroke="#0d0887" stroke-width="0.8"/><circle cx="388.49" cy="270.21" r="2.50" fill="#0d0887" stroke="#0d0887" stroke-width="0.8"/><circle cx="392.18" cy="273.37" r="2.50" fill="#0d0887" stroke="#0d0887" stroke-width="0.8"/><circle cx="396.73" cy="277.62" r="2.50" fill="#0d0887" stroke="#0d0887" stroke-width="0.8"/><polygon points="286.23,196.06 283.73,191.06 288.73,191.06" fill="#5402a3" stroke="#5402a3" stroke-width="0.8" stroke-linejoin="miter"/><polygon points="308.81,209.91 306.31,204.91 311.31,204.91" fill="#5402a3" stroke="#5402a3" stroke-width="0.8" stroke-linejoin="miter"/><polygon points="322.01,215.33 319.51,210.33 324.51,210.33" fill="#5402a3" stroke="#5402a3" stroke-width="0.8" stroke-linejoin="miter"/><polygon points="331.38,219.79 328.88,214.79 333.88,214.79" fill="#5402a3" stroke="#5402a3" stroke-width="0.8" stroke-linejoin="miter"/><polygon points="338.65,227.40 336.15,222.40 341.15,222.40" fill="#5402a3" stroke="#5402a3" stroke-width="0.8" stroke-linejoin="miter"/><polygon points="344.59,228.86 342.09,223.86 347.09,223.86" fill="#5402a3" stroke="#5402a3" stroke-width="0.8" stroke-linejoin="miter"/><polygon points="349.61,231.67 347.11,226.67 352.11,226.67" fill="#5402a3" stroke="#5402a3" stroke-width="0.8" stroke-linejoin="miter"/><polygon points="353.96,236.13 351.46,231.13 356.46,231.13" fill="#5402a3" stroke="#5402a3" stroke-width="0.8" stroke-linejoin="miter"/><polygon points="357.80,238.46 355.30,233.46 360.30,233.46" fill="#5402a3" stroke="#5402a3" stroke-width="0.8" stroke-linejoin="miter"/><polygon points="361.23,241.44 358.73,236.44 363.73,236.44" fill="#5402a3" stroke="#5402a3" stroke-width="0.8" stroke-linejoin="miter"/><polygon points="364.33,244.29 361.83,239.29 366.83,239.29" fill="#5402a3" stroke="#5402a3" stroke-width="0.8" stroke-linejoin="miter"/><polygon points="367.17,249.81 364.67,244.81 369.67,244.81" fill="#5402a3" stroke="#5402a3" stroke-width="0.8" stroke-linejoin="miter"/><polygon points="369.77,249.86 367.27,244.86 372.27,244.86" fill="#5402a3" stroke="#5402a3" stroke-width="0.8" stroke-linejoin="miter"/><polygon points="372.19,252.32 369.69,247.32 374.69,247.32" fill="#5402a3" stroke="#5402a3" stroke-width="0.8" stroke-linejoin="miter"/><polygon points="374.43,255.51 371.93,250.51 376.93,250.51" fill="#5402a3" stroke="#5402a3" stroke-width="0.8" stroke-linejoin="miter"/><polygon points="376.54,259.65 374.04,254.65 379.04,254.65" fill="#5402a3" stroke="#5402a3" stroke-width="0.8" stroke-linejoin="miter"/><polygon points="378.51,259.34 376.01,254.34 381.01,254.34" fill="#5402a3" stroke="#5402a3" stroke-width="0.8" stroke-linejoin="miter"/><polygon points="380.37,261.09 377.87,256.09 382.87,256.09" fill="#5402a3" stroke="#5402a3" stroke-width="0.8" stroke-linejoin="miter"/><polygon points="384.06,267.96 381.56,262.96 386.56,262.96" fill="#5402a3" stroke="#5402a3" stroke-width="0.8" stroke-linejoin="miter"/><polygon points="387.76,270.26 385.26,265.26 390.26,265.26" fill="#5402a3" stroke="#5402a3" stroke-width="0.8" stroke-linejoin="miter"/><polygon points="391.45,276.27 388.95,271.27 393.95,271.27" fill="#5402a3" stroke="#5402a3" stroke-width="0.8" stroke-linejoin="miter"/><polygon points="395.14,276.19 392.64,271.19 397.64,271.19" fill="#5402a3" stroke="#5402a3" stroke-width="0.8" stroke-linejoin="miter"/><polygon points="398.00,281.06 395.50,276.06 400.50,276.06" fill="#5402a3" stroke="#5402a3" stroke-width="0.8" stroke-linejoin="miter"/><polygon points="388.20,278.10 385.70,273.10 390.70,273.10" fill="#5402a3" stroke="#5402a3" stroke-width="0.8" stroke-linejoin="miter"/><polygon points="400.40,284.90 397.90,279.90 402.90,279.90" fill="#5402a3" stroke="#5402a3" stroke-width="0.8" stroke-linejoin="miter"/><polygon points="293.14,194.74 290.64,199.74 295.64,199.74" fill="#8b0aa5" stroke="#8b0aa5" stroke-width="0.8" stroke-linejoin="miter"/><polygon points="315.72,208.51 313.22,213.51 318.22,213.51" fill="#8b0aa5" stroke="#8b0aa5" stroke-width="0.8" stroke-linejoin="miter"/><polygon points="328.93,214.93 326.43,219.93 331.43,219.93" fill="#8b0aa5" stroke="#8b0aa5" stroke-width="0.8" stroke-linejoin="miter"/><polygon points="338.30,220.59 335.80,225.59 340.80,225.59" fill="#8b0aa5" stroke="#8b0aa5" stroke-width="0.8" stroke-linejoin="miter"/><polygon points="345.57,224.63 343.07,229.63 348.07,229.63" fill="#8b0aa5" stroke="#8b0aa5" stroke-width="0.8" stroke-linejoin="miter"/><polygon points="351.50,231.18 349.00,236.18 354.00,236.18" fill="#8b0aa5" stroke="#8b0aa5" stroke-width="0.8" stroke-linejoin="miter"/><polygon points="356.53,235.55 354.03,240.55 359.03,240.55" fill="#8b0aa5" stroke="#8b0aa5" stroke-width="0.8" stroke-linejoin="miter"/><polygon points="360.88,237.35 358.38,242.35 363.38,242.35" fill="#8b0aa5" stroke="#8b0aa5" stroke-width="0.8" stroke-linejoin="miter"/><polygon points="364.71,240.22 362.21,245.22 367.21,245.22" fill="#8b0aa5" stroke="#8b0aa5" stroke-width="0.8" stroke-linejoin="miter"/><polygon points="368.14,244.88 365.64,249.88 370.64,249.88" fill="#8b0aa5" stroke="#8b0aa5" stroke-width="0.8" stroke-linejoin="miter"/><polygon points="371.25,247.50 368.75,252.50 373.75,252.50" fill="#8b0aa5" stroke="#8b0aa5" stroke-width="0.8" stroke-linejoin="miter"/><polygon points="374.08,248.73 371.58,253.73 376.58,253.73" fill="#8b0aa5" stroke="#8b0aa5" stroke-width="0.8" stroke-linejoin="miter"/><polygon points="376.69,252.56 374.19,257.56 379.19,257.56" fill="#8b0aa5" stroke="#8b0aa5" stroke-width="0.8" stroke-linejoin="miter"/><polygon points="379.10,257.28 376.60,262.28 381.60,262.28" fill="#8b0aa5" stroke="#8b0aa5" stroke-width="0.8" stroke-linejoin="miter"/><polygon points="381.35,258.60 378.85,263.60 383.85,263.60" fill="#8b0aa5" stroke="#8b0aa5" stroke-width="0.8" stroke-linejoin="miter"/><polygon points="385.04,262.69 382.54,267.69 387.54,267.69" fill="#8b0aa5" stroke="#8b0aa5" stroke-width="0.8" stroke-linejoin="miter"/><polygon points="388.73,266.89 386.23,271.89 391.23,271.89" fill="#8b0aa5" stroke="#8b0aa5" stroke-width="0.8" stroke-linejoin="miter"/><polygon points="392.42,270.21 389.92,275.21 394.92,275.21" fill="#8b0aa5" stroke="#8b0aa5" stroke-width="0.8" stroke-linejoin="miter"/><polygon points="396.12,274.94 393.62,279.94 398.62,279.94" fill="#8b0aa5" stroke="#8b0aa5" stroke-width="0.8" stroke-linejoin="miter"/><polygon points="398.00,279.12 395.50,284.12 400.50,284.12" fill="#8b0aa5" stroke="#8b0aa5" stroke-width="0.8" stroke-linejoin="miter"/><polygon points="402.40,282.70 399.90,287.70 404.90,287.70" fill="#8b0aa5" stroke="#8b0aa5" stroke-width="0.8" stroke-linejoin="miter"/><polygon points="405.20,293.50 402.70,298.50 407.70,298.50" fill="#8b0aa5" stroke="#8b0aa5" stroke-width="0.8" stroke-linejoin="miter"/><polygon points="296.74,200.49 301.74,197.99 301.74,202.99" fill="#b83289" stroke="#b83289" stroke-width="0.8" stroke-linejoin="miter"/><polygon points="319.32,215.18 324.32,212.68 324.32,217.68" fill="#b83289" stroke="#b83289" stroke-width="0.8" stroke-linejoin="miter"/><polygon points="332.53,223.58 337.53,221.08 337.53,226.08" fill="#b83289" stroke="#b83289" stroke-width="0.8" stroke-linejoin="miter"/><polygon points="341.90,231.37 346.90,228.87 346.90,233.87" fill="#b83289" stroke="#b83289" stroke-width="0.8" stroke-linejoin="miter"/><polygon points="349.17,234.73 354.17,232.23 354.17,237.23" fill="#b83289" stroke="#b83289" stroke-width="0.8" stroke-linejoin="miter"/><polygon points="355.10,240.83 360.10,238.33 360.10,243.33" fill="#b83289" stroke="#b83289" stroke-width="0.8" stroke-linejoin="miter"/><polygon points="360.13,245.69 365.13,243.19 365.13,248.19" fill="#b83289" stroke="#b83289" stroke-width="0.8" stroke-linejoin="miter"/><polygon points="364.48,245.97 369.48,243.47 369.48,248.47" fill="#b83289" stroke="#b83289" stroke-width="0.8" stroke-linejoin="miter"/><polygon points="368.31,250.19 373.31,247.69 373.31,252.69" fill="#b83289" stroke="#b83289" stroke-width="0.8" stroke-linejoin="miter"/><polygon points="371.74,255.41 376.74,252.91 376.74,257.91" fill="#b83289" stroke="#b83289" stroke-width="0.8" stroke-linejoin="miter"/><polygon points="374.85,256.16 379.85,253.66 379.85,258.66" fill="#b83289" stroke="#b83289" stroke-width="0.8" stroke-linejoin="miter"/><polygon points="377.68,261.29 382.68,258.79 382.68,263.79" fill="#b83289" stroke="#b83289" stroke-width="0.8" stroke-linejoin="miter"/><polygon points="381.37,268.34 386.37,265.84 386.37,270.84" fill="#b83289" stroke="#b83289" stroke-width="0.8" stroke-linejoin="miter"/><polygon points="385.06,269.14 390.06,266.64 390.06,271.64" fill="#b83289" stroke="#b83289" stroke-width="0.8" stroke-linejoin="miter"/><polygon points="388.76,277.33 393.76,274.83 393.76,279.83" fill="#b83289" stroke="#b83289" stroke-width="0.8" stroke-linejoin="miter"/><polygon points="392.45,279.67 397.45,277.17 397.45,282.17" fill="#b83289" stroke="#b83289" stroke-width="0.8" stroke-linejoin="miter"/><polygon points="395.50,278.79 400.50,276.29 400.50,281.29" fill="#b83289" stroke="#b83289" stroke-width="0.8" stroke-linejoin="miter"/><polygon points="404.00,281.80 409.00,279.30 409.00,284.30" fill="#b83289" stroke="#b83289" stroke-width="0.8" stroke-linejoin="miter"/><polygon points="409.50,296.70 414.50,294.20 414.50,299.20" fill="#b83289" stroke="#b83289" stroke-width="0.8" stroke-linejoin="miter"/><polygon points="307.20,203.40 302.20,200.90 302.20,205.90" fill="#db5c68" stroke="#db5c68" stroke-width="0.8" stroke-linejoin="miter"/><polygon points="329.78,216.82 324.78,214.32 324.78,219.32" fill="#db5c68" stroke="#db5c68" stroke-width="0.8" stroke-linejoin="miter"/><polygon points="342.98,228.52 337.98,226.02 337.98,231.02" fill="#db5c68" stroke="#db5c68" stroke-width="0.8" stroke-linejoin="miter"/><polygon points="352.35,231.78 347.35,229.28 347.35,234.28" fill="#db5c68" stroke="#db5c68" stroke-width="0.8" stroke-linejoin="miter"/><polygon points="359.62,238.45 354.62,235.95 354.62,240.95" fill="#db5c68" stroke="#db5c68" stroke-width="0.8" stroke-linejoin="miter"/><polygon points="365.56,243.41 360.56,240.91 360.56,245.91" fill="#db5c68" stroke="#db5c68" stroke-width="0.8" stroke-linejoin="miter"/><polygon points="370.58,249.13 365.58,246.63 365.58,251.63" fill="#db5c68" stroke="#db5c68" stroke-width="0.8" stroke-linejoin="miter"/><polygon points="374.93,253.14 369.93,250.64 369.93,255.64" fill="#db5c68" stroke="#db5c68" stroke-width="0.8" stroke-linejoin="miter"/><polygon points="378.77,257.43 373.77,254.93 373.77,259.93" fill="#db5c68" stroke="#db5c68" stroke-width="0.8" stroke-linejoin="miter"/><polygon points="382.20,259.72 377.20,257.22 377.20,262.22" fill="#db5c68" stroke="#db5c68" stroke-width="0.8" stroke-linejoin="miter"/><polygon points="385.89,261.99 380.89,259.49 380.89,264.49" fill="#db5c68" stroke="#db5c68" stroke-width="0.8" stroke-linejoin="miter"/><polygon points="389.58,270.94 384.58,268.44 384.58,273.44" fill="#db5c68" stroke="#db5c68" stroke-width="0.8" stroke-linejoin="miter"/><polygon points="393.27,273.10 388.27,270.60 388.27,275.60" fill="#db5c68" stroke="#db5c68" stroke-width="0.8" stroke-linejoin="miter"/><polygon points="396.97,277.24 391.97,274.74 391.97,279.74" fill="#db5c68" stroke="#db5c68" stroke-width="0.8" stroke-linejoin="miter"/><polygon points="400.50,280.15 395.50,277.65 395.50,282.65" fill="#db5c68" stroke="#db5c68" stroke-width="0.8" stroke-linejoin="miter"/><polygon points="392.70,280.40 387.70,277.90 387.70,282.90" fill="#db5c68" stroke="#db5c68" stroke-width="0.8" stroke-linejoin="miter"/><rect x="307.14" y="203.53" width="5.00" height="5.00" fill="#f48849" stroke="#f48849" stroke-width="0.8"/><rect x="329.71" y="218.07" width="5.00" height="5.00" fill="#f48849" stroke="#f48849" stroke-width="0.8"/><rect x="342.92" y="228.86" width="5.00" height="5.00" fill="#f48849" stroke="#f48849" stroke-width="0.8"/><rect x="352.29" y="234.54" width="5.00" height="5.00" fill="#f48849" stroke="#f48849" stroke-width="0.8"/><rect x="359.56" y="240.95" width="5.00" height="5.00" fill="#f48849" stroke="#f48849" stroke-width="0.8"/><rect x="365.50" y="245.45" width="5.00" height="5.00" fill="#f48849" stroke="#f48849" stroke-width="0.8"/><rect x="370.52" y="250.34" width="5.00" height="5.00" fill="#f48849" stroke="#f48849" stroke-width="0.8"/><rect x="374.87" y="254.69" width="5.00" height="5.00" fill="#f48849" stroke="#f48849" stroke-width="0.8"/><rect x="378.70" y="259.50" width="5.00" height="5.00" fill="#f48849" stroke="#f48849" stroke-width="0.8"/><rect x="382.40" y="260.18" width="5.00" height="5.00" fill="#f48849" stroke="#f48849" stroke-width="0.8"/><rect x="386.09" y="267.20" width="5.00" height="5.00" fill="#f48849" stroke="#f48849" stroke-width="0.8"/><rect x="389.78" y="273.97" width="5.00" height="5.00" fill="#f48849" stroke="#f48849" stroke-width="0.8"/><rect x="393.47" y="278.16" width="5.00" height="5.00" fill="#f48849" stroke="#f48849" stroke-width="0.8"/><rect x="395.50" y="281.83" width="5.00" height="5.00" fill="#f48849" stroke="#f48849" stroke-width="0.8"/><rect x="391.80" y="279.90" width="5.00" height="5.00" fill="#f48849" stroke="#f48849" stroke-width="0.8"/><rect x="409.50" y="282.70" width="5.00" height="5.00" fill="#f48849" stroke="#f48849" stroke-width="0.8"/><rect x="410.20" y="288.80" width="5.00" height="5.00" fill="#f48849" stroke="#f48849" stroke-width="0.8"/><rect x="414.20" y="297.00" width="5.00" height="5.00" fill="#f48849" stroke="#f48849" stroke-width="0.8"/><polygon points="314.14,204.90 317.68,208.43 314.14,211.97 310.61,208.43" fill="#febd2a" stroke="#febd2a" stroke-width="0.8" stroke-linejoin="miter"/><polygon points="336.72,219.12 340.26,222.66 336.72,226.19 333.18,222.66" fill="#febd2a" stroke="#febd2a" stroke-width="0.8" stroke-linejoin="miter"/><polygon points="349.93,229.60 353.46,233.14 349.93,236.67 346.39,233.14" fill="#febd2a" stroke="#febd2a" stroke-width="0.8" stroke-linejoin="miter"/><polygon points="359.30,235.79 362.83,239.32 359.30,242.86 355.76,239.32" fill="#febd2a" stroke="#febd2a" stroke-width="0.8" stroke-linejoin="miter"/><polygon points="366.57,240.54 370.10,244.08 366.57,247.61 363.03,244.08" fill="#febd2a" stroke="#febd2a" stroke-width="0.8" stroke-linejoin="miter"/><polygon points="372.50,248.22 376.04,251.75 372.50,255.29 368.97,251.75" fill="#febd2a" stroke="#febd2a" stroke-width="0.8" stroke-linejoin="miter"/><polygon points="377.52,253.10 381.06,256.63 377.52,260.17 373.99,256.63" fill="#febd2a" stroke="#febd2a" stroke-width="0.8" stroke-linejoin="miter"/><polygon points="381.22,258.65 384.75,262.19 381.22,265.72 377.68,262.19" fill="#febd2a" stroke="#febd2a" stroke-width="0.8" stroke-linejoin="miter"/><polygon points="384.91,262.44 388.44,265.97 384.91,269.51 381.37,265.97" fill="#febd2a" stroke="#febd2a" stroke-width="0.8" stroke-linejoin="miter"/><polygon points="388.60,265.85 392.13,269.39 388.60,272.92 385.06,269.39" fill="#febd2a" stroke="#febd2a" stroke-width="0.8" stroke-linejoin="miter"/><polygon points="392.29,272.29 395.83,275.82 392.29,279.36 388.75,275.82" fill="#febd2a" stroke="#febd2a" stroke-width="0.8" stroke-linejoin="miter"/><polygon points="395.98,274.13 399.52,277.66 395.98,281.20 392.45,277.66" fill="#febd2a" stroke="#febd2a" stroke-width="0.8" stroke-linejoin="miter"/><polygon points="398.00,278.81 401.54,282.35 398.00,285.89 394.46,282.35" fill="#febd2a" stroke="#febd2a" stroke-width="0.8" stroke-linejoin="miter"/><polygon points="406.50,289.16 410.04,292.70 406.50,296.24 402.96,292.70" fill="#febd2a" stroke="#febd2a" stroke-width="0.8" stroke-linejoin="miter"/><polygon points="420.50,298.66 424.04,302.20 420.50,305.74 416.96,302.20" fill="#febd2a" stroke="#febd2a" stroke-width="0.8" stroke-linejoin="miter"/></g>
<line x1="493.50" y1="174.61" x2="607.42" y2="36.18" stroke="#444" stroke-width="0.55"/>
<g clip-path="url(#clipE)"><circle cx="493.50" cy="169.69" r="2.60" fill="#0d0887" stroke="#0d0887" stroke-width="0.8"/><polygon points="493.50,172.14 490.90,166.94 496.10,166.94" fill="#5402a3" stroke="#5402a3" stroke-width="0.8" stroke-linejoin="miter"/><polygon points="493.50,167.19 490.90,172.39 496.10,172.39" fill="#8b0aa5" stroke="#8b0aa5" stroke-width="0.8" stroke-linejoin="miter"/><polygon points="490.90,170.14 496.10,167.54 496.10,172.74" fill="#b83289" stroke="#b83289" stroke-width="0.8" stroke-linejoin="miter"/><polygon points="496.10,170.29 490.90,167.69 490.90,172.89" fill="#db5c68" stroke="#db5c68" stroke-width="0.8" stroke-linejoin="miter"/><rect x="490.90" y="167.89" width="5.20" height="5.20" fill="#f48849" stroke="#f48849" stroke-width="0.8"/><polygon points="493.50,167.01 497.18,170.69 493.50,174.37 489.82,170.69" fill="#febd2a" stroke="#febd2a" stroke-width="0.8" stroke-linejoin="miter"/><circle cx="515.54" cy="146.83" r="2.60" fill="#0d0887" stroke="#0d0887" stroke-width="0.8"/><polygon points="515.54,149.13 512.94,143.93 518.14,143.93" fill="#5402a3" stroke="#5402a3" stroke-width="0.8" stroke-linejoin="miter"/><polygon points="515.54,144.43 512.94,149.63 518.14,149.63" fill="#8b0aa5" stroke="#8b0aa5" stroke-width="0.8" stroke-linejoin="miter"/><polygon points="512.94,147.73 518.14,145.13 518.14,150.33" fill="#b83289" stroke="#b83289" stroke-width="0.8" stroke-linejoin="miter"/><polygon points="518.14,148.03 512.94,145.43 512.94,150.63" fill="#db5c68" stroke="#db5c68" stroke-width="0.8" stroke-linejoin="miter"/><rect x="512.94" y="145.83" width="5.20" height="5.20" fill="#f48849" stroke="#f48849" stroke-width="0.8"/><polygon points="515.54,145.15 519.21,148.83 515.54,152.51 511.86,148.83" fill="#febd2a" stroke="#febd2a" stroke-width="0.8" stroke-linejoin="miter"/><circle cx="528.43" cy="131.02" r="2.60" fill="#0d0887" stroke="#0d0887" stroke-width="0.8"/><polygon points="528.43,133.32 525.83,128.12 531.03,128.12" fill="#5402a3" stroke="#5402a3" stroke-width="0.8" stroke-linejoin="miter"/><polygon points="528.43,128.62 525.83,133.82 531.03,133.82" fill="#8b0aa5" stroke="#8b0aa5" stroke-width="0.8" stroke-linejoin="miter"/><polygon points="525.83,131.92 531.03,129.32 531.03,134.52" fill="#b83289" stroke="#b83289" stroke-width="0.8" stroke-linejoin="miter"/><polygon points="531.03,132.22 525.83,129.62 525.83,134.82" fill="#db5c68" stroke="#db5c68" stroke-width="0.8" stroke-linejoin="miter"/><rect x="525.83" y="130.02" width="5.20" height="5.20" fill="#f48849" stroke="#f48849" stroke-width="0.8"/><polygon points="528.43,129.34 532.10,133.02 528.43,136.70 524.75,133.02" fill="#febd2a" stroke="#febd2a" stroke-width="0.8" stroke-linejoin="miter"/><circle cx="537.57" cy="121.84" r="2.60" fill="#0d0887" stroke="#0d0887" stroke-width="0.8"/><polygon points="537.57,124.14 534.97,118.94 540.17,118.94" fill="#5402a3" stroke="#5402a3" stroke-width="0.8" stroke-linejoin="miter"/><polygon points="537.57,119.44 534.97,124.64 540.17,124.64" fill="#8b0aa5" stroke="#8b0aa5" stroke-width="0.8" stroke-linejoin="miter"/><polygon points="534.97,122.74 540.17,120.14 540.17,125.34" fill="#b83289" stroke="#b83289" stroke-width="0.8" stroke-linejoin="miter"/><polygon points="540.17,123.04 534.97,120.44 534.97,125.64" fill="#db5c68" stroke="#db5c68" stroke-width="0.8" stroke-linejoin="miter"/><rect x="534.97" y="120.84" width="5.20" height="5.20" fill="#f48849" stroke="#f48849" stroke-width="0.8"/><polygon points="537.57,120.17 541.25,123.84 537.57,127.52 533.89,123.84" fill="#febd2a" stroke="#febd2a" stroke-width="0.8" stroke-linejoin="miter"/><circle cx="544.66" cy="112.88" r="2.60" fill="#0d0887" stroke="#0d0887" stroke-width="0.8"/><polygon points="544.66,115.18 542.06,109.98 547.26,109.98" fill="#5402a3" stroke="#5402a3" stroke-width="0.8" stroke-linejoin="miter"/><polygon points="544.66,110.48 542.06,115.68 547.26,115.68" fill="#8b0aa5" stroke="#8b0aa5" stroke-width="0.8" stroke-linejoin="miter"/><polygon points="542.06,113.78 547.26,111.18 547.26,116.38" fill="#b83289" stroke="#b83289" stroke-width="0.8" stroke-linejoin="miter"/><polygon points="547.26,114.08 542.06,111.48 542.06,116.68" fill="#db5c68" stroke="#db5c68" stroke-width="0.8" stroke-linejoin="miter"/><rect x="542.06" y="111.88" width="5.20" height="5.20" fill="#f48849" stroke="#f48849" stroke-width="0.8"/><polygon points="544.66,111.20 548.34,114.88 544.66,118.56 540.99,114.88" fill="#febd2a" stroke="#febd2a" stroke-width="0.8" stroke-linejoin="miter"/><circle cx="550.46" cy="103.71" r="2.60" fill="#0d0887" stroke="#0d0887" stroke-width="0.8"/><polygon points="550.46,106.01 547.86,100.81 553.06,100.81" fill="#5402a3" stroke="#5402a3" stroke-width="0.8" stroke-linejoin="miter"/><polygon points="550.46,101.31 547.86,106.51 553.06,106.51" fill="#8b0aa5" stroke="#8b0aa5" stroke-width="0.8" stroke-linejoin="miter"/><polygon points="547.86,104.61 553.06,102.01 553.06,107.21" fill="#b83289" stroke="#b83289" stroke-width="0.8" stroke-linejoin="miter"/><polygon points="553.06,104.91 547.86,102.31 547.86,107.51" fill="#db5c68" stroke="#db5c68" stroke-width="0.8" stroke-linejoin="miter"/><rect x="547.86" y="102.71" width="5.20" height="5.20" fill="#f48849" stroke="#f48849" stroke-width="0.8"/><polygon points="550.46,102.03 554.14,105.71 550.46,109.38 546.78,105.71" fill="#febd2a" stroke="#febd2a" stroke-width="0.8" stroke-linejoin="miter"/><circle cx="555.36" cy="95.09" r="2.60" fill="#0d0887" stroke="#0d0887" stroke-width="0.8"/><circle cx="559.61" cy="89.28" r="2.60" fill="#0d0887" stroke="#0d0887" stroke-width="0.8"/><circle cx="563.35" cy="87.26" r="2.60" fill="#0d0887" stroke="#0d0887" stroke-width="0.8"/><circle cx="566.70" cy="83.32" r="2.60" fill="#0d0887" stroke="#0d0887" stroke-width="0.8"/><circle cx="569.73" cy="78.13" r="2.60" fill="#0d0887" stroke="#0d0887" stroke-width="0.8"/><circle cx="572.50" cy="73.11" r="2.60" fill="#0d0887" stroke="#0d0887" stroke-width="0.8"/><polygon points="555.36,98.47 552.76,93.27 557.96,93.27" fill="#5402a3" stroke="#5402a3" stroke-width="0.8" stroke-linejoin="miter"/><polygon points="559.61,95.20 557.01,90.00 562.21,90.00" fill="#5402a3" stroke="#5402a3" stroke-width="0.8" stroke-linejoin="miter"/><polygon points="563.35,90.17 560.75,84.97 565.95,84.97" fill="#5402a3" stroke="#5402a3" stroke-width="0.8" stroke-linejoin="miter"/><polygon points="566.70,85.24 564.10,80.04 569.30,80.04" fill="#5402a3" stroke="#5402a3" stroke-width="0.8" stroke-linejoin="miter"/><polygon points="569.73,80.35 567.13,75.15 572.33,75.15" fill="#5402a3" stroke="#5402a3" stroke-width="0.8" stroke-linejoin="miter"/><polygon points="572.50,78.14 569.90,72.94 575.10,72.94" fill="#5402a3" stroke="#5402a3" stroke-width="0.8" stroke-linejoin="miter"/><polygon points="575.04,73.10 572.44,67.90 577.64,67.90" fill="#5402a3" stroke="#5402a3" stroke-width="0.8" stroke-linejoin="miter"/><polygon points="583.57,63.79 580.97,58.59 586.17,58.59" fill="#5402a3" stroke="#5402a3" stroke-width="0.8" stroke-linejoin="miter"/><polygon points="585.39,61.31 582.79,56.11 587.99,56.11" fill="#5402a3" stroke="#5402a3" stroke-width="0.8" stroke-linejoin="miter"/><polygon points="590.29,57.74 587.69,52.54 592.89,52.54" fill="#5402a3" stroke="#5402a3" stroke-width="0.8" stroke-linejoin="miter"/><polygon points="593.18,53.51 590.58,48.31 595.78,48.31" fill="#5402a3" stroke="#5402a3" stroke-width="0.8" stroke-linejoin="miter"/><polygon points="594.53,50.87 591.93,45.67 597.13,45.67" fill="#5402a3" stroke="#5402a3" stroke-width="0.8" stroke-linejoin="miter"/><polygon points="600.50,33.70 597.90,28.50 603.10,28.50" fill="#5402a3" stroke="#5402a3" stroke-width="0.8" stroke-linejoin="miter"/><polygon points="609.90,35.10 607.30,29.90 612.50,29.90" fill="#5402a3" stroke="#5402a3" stroke-width="0.8" stroke-linejoin="miter"/><polygon points="604.80,42.10 602.20,36.90 607.40,36.90" fill="#5402a3" stroke="#5402a3" stroke-width="0.8" stroke-linejoin="miter"/><polygon points="592.50,49.30 589.90,44.10 595.10,44.10" fill="#5402a3" stroke="#5402a3" stroke-width="0.8" stroke-linejoin="miter"/><polygon points="588.20,55.10 585.60,49.90 590.80,49.90" fill="#5402a3" stroke="#5402a3" stroke-width="0.8" stroke-linejoin="miter"/><polygon points="583.10,57.90 580.50,52.70 585.70,52.70" fill="#5402a3" stroke="#5402a3" stroke-width="0.8" stroke-linejoin="miter"/><polygon points="589.60,73.80 587.00,68.60 592.20,68.60" fill="#5402a3" stroke="#5402a3" stroke-width="0.8" stroke-linejoin="miter"/><polygon points="584.60,71.00 582.00,65.80 587.20,65.80" fill="#5402a3" stroke="#5402a3" stroke-width="0.8" stroke-linejoin="miter"/><polygon points="558.70,92.30 556.10,87.10 561.30,87.10" fill="#5402a3" stroke="#5402a3" stroke-width="0.8" stroke-linejoin="miter"/><polygon points="565.20,83.60 562.60,78.40 567.80,78.40" fill="#5402a3" stroke="#5402a3" stroke-width="0.8" stroke-linejoin="miter"/><polygon points="568.80,80.70 566.20,75.50 571.40,75.50" fill="#5402a3" stroke="#5402a3" stroke-width="0.8" stroke-linejoin="miter"/><polygon points="574.60,69.90 572.00,64.70 577.20,64.70" fill="#5402a3" stroke="#5402a3" stroke-width="0.8" stroke-linejoin="miter"/><polygon points="584.00,68.40 581.40,63.20 586.60,63.20" fill="#5402a3" stroke="#5402a3" stroke-width="0.8" stroke-linejoin="miter"/><polygon points="590.50,74.20 587.90,69.00 593.10,69.00" fill="#5402a3" stroke="#5402a3" stroke-width="0.8" stroke-linejoin="miter"/><polygon points="583.30,58.30 580.70,53.10 585.90,53.10" fill="#5402a3" stroke="#5402a3" stroke-width="0.8" stroke-linejoin="miter"/><polygon points="555.40,99.10 552.80,93.90 558.00,93.90" fill="#5402a3" stroke="#5402a3" stroke-width="0.8" stroke-linejoin="miter"/><polygon points="555.36,93.16 552.76,98.36 557.96,98.36" fill="#8b0aa5" stroke="#8b0aa5" stroke-width="0.8" stroke-linejoin="miter"/><polygon points="559.61,88.01 557.01,93.21 562.21,93.21" fill="#8b0aa5" stroke="#8b0aa5" stroke-width="0.8" stroke-linejoin="miter"/><polygon points="563.35,86.92 560.75,92.12 565.95,92.12" fill="#8b0aa5" stroke="#8b0aa5" stroke-width="0.8" stroke-linejoin="miter"/><polygon points="566.70,80.92 564.10,86.12 569.30,86.12" fill="#8b0aa5" stroke="#8b0aa5" stroke-width="0.8" stroke-linejoin="miter"/><polygon points="569.73,78.46 567.13,83.66 572.33,83.66" fill="#8b0aa5" stroke="#8b0aa5" stroke-width="0.8" stroke-linejoin="miter"/><polygon points="572.50,73.15 569.90,78.35 575.10,78.35" fill="#8b0aa5" stroke="#8b0aa5" stroke-width="0.8" stroke-linejoin="miter"/><polygon points="579.59,65.50 576.99,70.70 582.19,70.70" fill="#8b0aa5" stroke="#8b0aa5" stroke-width="0.8" stroke-linejoin="miter"/><polygon points="583.57,58.75 580.97,63.95 586.17,63.95" fill="#8b0aa5" stroke="#8b0aa5" stroke-width="0.8" stroke-linejoin="miter"/><polygon points="585.39,58.60 582.79,63.80 587.99,63.80" fill="#8b0aa5" stroke="#8b0aa5" stroke-width="0.8" stroke-linejoin="miter"/><polygon points="587.10,58.64 584.50,63.84 589.70,63.84" fill="#8b0aa5" stroke="#8b0aa5" stroke-width="0.8" stroke-linejoin="miter"/><polygon points="588.74,53.59 586.14,58.79 591.34,58.79" fill="#8b0aa5" stroke="#8b0aa5" stroke-width="0.8" stroke-linejoin="miter"/><polygon points="590.29,51.74 587.69,56.94 592.89,56.94" fill="#8b0aa5" stroke="#8b0aa5" stroke-width="0.8" stroke-linejoin="miter"/><polygon points="599.70,32.50 597.10,37.70 602.30,37.70" fill="#8b0aa5" stroke="#8b0aa5" stroke-width="0.8" stroke-linejoin="miter"/><polygon points="591.10,46.20 588.50,51.40 593.70,51.40" fill="#8b0aa5" stroke="#8b0aa5" stroke-width="0.8" stroke-linejoin="miter"/><polygon points="586.70,56.40 584.10,61.60 589.30,61.60" fill="#8b0aa5" stroke="#8b0aa5" stroke-width="0.8" stroke-linejoin="miter"/><polygon points="574.50,65.00 571.90,70.20 577.10,70.20" fill="#8b0aa5" stroke="#8b0aa5" stroke-width="0.8" stroke-linejoin="miter"/><polygon points="579.70,58.20 577.10,63.40 582.30,63.40" fill="#8b0aa5" stroke="#8b0aa5" stroke-width="0.8" stroke-linejoin="miter"/><polygon points="555.70,97.80 553.10,103.00 558.30,103.00" fill="#8b0aa5" stroke="#8b0aa5" stroke-width="0.8" stroke-linejoin="miter"/><polygon points="566.00,81.40 563.40,86.60 568.60,86.60" fill="#8b0aa5" stroke="#8b0aa5" stroke-width="0.8" stroke-linejoin="miter"/><polygon points="557.00,90.40 554.40,95.60 559.60,95.60" fill="#8b0aa5" stroke="#8b0aa5" stroke-width="0.8" stroke-linejoin="miter"/><polygon points="552.76,96.50 557.96,93.90 557.96,99.10" fill="#b83289" stroke="#b83289" stroke-width="0.8" stroke-linejoin="miter"/><polygon points="557.01,94.79 562.21,92.19 562.21,97.39" fill="#b83289" stroke="#b83289" stroke-width="0.8" stroke-linejoin="miter"/><polygon points="560.75,90.04 565.95,87.44 565.95,92.64" fill="#b83289" stroke="#b83289" stroke-width="0.8" stroke-linejoin="miter"/><polygon points="564.10,84.36 569.30,81.76 569.30,86.96" fill="#b83289" stroke="#b83289" stroke-width="0.8" stroke-linejoin="miter"/><polygon points="567.13,82.45 572.33,79.85 572.33,85.05" fill="#b83289" stroke="#b83289" stroke-width="0.8" stroke-linejoin="miter"/><polygon points="569.90,77.58 575.10,74.98 575.10,80.18" fill="#b83289" stroke="#b83289" stroke-width="0.8" stroke-linejoin="miter"/><polygon points="572.44,75.07 577.64,72.47 577.64,77.67" fill="#b83289" stroke="#b83289" stroke-width="0.8" stroke-linejoin="miter"/><polygon points="576.99,69.14 582.19,66.54 582.19,71.74" fill="#b83289" stroke="#b83289" stroke-width="0.8" stroke-linejoin="miter"/><polygon points="579.04,68.25 584.24,65.65 584.24,70.85" fill="#b83289" stroke="#b83289" stroke-width="0.8" stroke-linejoin="miter"/><polygon points="580.97,64.45 586.17,61.85 586.17,67.05" fill="#b83289" stroke="#b83289" stroke-width="0.8" stroke-linejoin="miter"/><polygon points="582.79,61.99 587.99,59.39 587.99,64.59" fill="#b83289" stroke="#b83289" stroke-width="0.8" stroke-linejoin="miter"/><polygon points="584.50,58.54 589.70,55.94 589.70,61.14" fill="#b83289" stroke="#b83289" stroke-width="0.8" stroke-linejoin="miter"/><polygon points="586.14,57.89 591.34,55.29 591.34,60.49" fill="#b83289" stroke="#b83289" stroke-width="0.8" stroke-linejoin="miter"/><polygon points="601.50,43.10 606.70,40.50 606.70,45.70" fill="#b83289" stroke="#b83289" stroke-width="0.8" stroke-linejoin="miter"/><polygon points="576.20,60.40 581.40,57.80 581.40,63.00" fill="#b83289" stroke="#b83289" stroke-width="0.8" stroke-linejoin="miter"/><polygon points="577.10,69.50 582.30,66.90 582.30,72.10" fill="#b83289" stroke="#b83289" stroke-width="0.8" stroke-linejoin="miter"/><polygon points="557.00,90.50 562.20,87.90 562.20,93.10" fill="#b83289" stroke="#b83289" stroke-width="0.8" stroke-linejoin="miter"/><polygon points="567.40,80.00 572.60,77.40 572.60,82.60" fill="#b83289" stroke="#b83289" stroke-width="0.8" stroke-linejoin="miter"/><polygon points="583.40,62.00 588.60,59.40 588.60,64.60" fill="#b83289" stroke="#b83289" stroke-width="0.8" stroke-linejoin="miter"/><polygon points="597.40,41.00 602.60,38.40 602.60,43.60" fill="#b83289" stroke="#b83289" stroke-width="0.8" stroke-linejoin="miter"/><polygon points="557.96,98.77 552.76,96.17 552.76,101.37" fill="#db5c68" stroke="#db5c68" stroke-width="0.8" stroke-linejoin="miter"/><polygon points="562.21,95.90 557.01,93.30 557.01,98.50" fill="#db5c68" stroke="#db5c68" stroke-width="0.8" stroke-linejoin="miter"/><polygon points="565.95,87.45 560.75,84.85 560.75,90.05" fill="#db5c68" stroke="#db5c68" stroke-width="0.8" stroke-linejoin="miter"/><polygon points="569.30,86.60 564.10,84.00 564.10,89.20" fill="#db5c68" stroke="#db5c68" stroke-width="0.8" stroke-linejoin="miter"/><polygon points="572.33,80.63 567.13,78.03 567.13,83.23" fill="#db5c68" stroke="#db5c68" stroke-width="0.8" stroke-linejoin="miter"/><polygon points="575.10,78.82 569.90,76.22 569.90,81.42" fill="#db5c68" stroke="#db5c68" stroke-width="0.8" stroke-linejoin="miter"/><polygon points="580.00,72.13 574.80,69.53 574.80,74.73" fill="#db5c68" stroke="#db5c68" stroke-width="0.8" stroke-linejoin="miter"/><polygon points="582.19,71.31 576.99,68.71 576.99,73.91" fill="#db5c68" stroke="#db5c68" stroke-width="0.8" stroke-linejoin="miter"/><polygon points="584.24,66.20 579.04,63.60 579.04,68.80" fill="#db5c68" stroke="#db5c68" stroke-width="0.8" stroke-linejoin="miter"/><polygon points="586.17,63.96 580.97,61.36 580.97,66.56" fill="#db5c68" stroke="#db5c68" stroke-width="0.8" stroke-linejoin="miter"/><polygon points="587.99,63.28 582.79,60.68 582.79,65.88" fill="#db5c68" stroke="#db5c68" stroke-width="0.8" stroke-linejoin="miter"/><polygon points="606.00,45.20 600.80,42.60 600.80,47.80" fill="#db5c68" stroke="#db5c68" stroke-width="0.8" stroke-linejoin="miter"/><polygon points="564.90,86.80 559.70,84.20 559.70,89.40" fill="#db5c68" stroke="#db5c68" stroke-width="0.8" stroke-linejoin="miter"/><polygon points="579.40,81.70 574.20,79.10 574.20,84.30" fill="#db5c68" stroke="#db5c68" stroke-width="0.8" stroke-linejoin="miter"/><polygon points="591.00,58.60 585.80,56.00 585.80,61.20" fill="#db5c68" stroke="#db5c68" stroke-width="0.8" stroke-linejoin="miter"/><polygon points="566.70,85.40 561.50,82.80 561.50,88.00" fill="#db5c68" stroke="#db5c68" stroke-width="0.8" stroke-linejoin="miter"/><polygon points="574.60,71.00 569.40,68.40 569.40,73.60" fill="#db5c68" stroke="#db5c68" stroke-width="0.8" stroke-linejoin="miter"/><polygon points="598.60,50.00 593.40,47.40 593.40,52.60" fill="#db5c68" stroke="#db5c68" stroke-width="0.8" stroke-linejoin="miter"/><polygon points="555.60,97.00 550.40,94.40 550.40,99.60" fill="#db5c68" stroke="#db5c68" stroke-width="0.8" stroke-linejoin="miter"/><rect x="552.76" y="96.61" width="5.20" height="5.20" fill="#f48849" stroke="#f48849" stroke-width="0.8"/><rect x="557.01" y="93.43" width="5.20" height="5.20" fill="#f48849" stroke="#f48849" stroke-width="0.8"/><rect x="560.75" y="89.68" width="5.20" height="5.20" fill="#f48849" stroke="#f48849" stroke-width="0.8"/><rect x="567.13" y="80.67" width="5.20" height="5.20" fill="#f48849" stroke="#f48849" stroke-width="0.8"/><rect x="574.80" y="73.74" width="5.20" height="5.20" fill="#f48849" stroke="#f48849" stroke-width="0.8"/><rect x="595.70" y="37.60" width="5.20" height="5.20" fill="#f48849" stroke="#f48849" stroke-width="0.8"/><rect x="592.10" y="50.60" width="5.20" height="5.20" fill="#f48849" stroke="#f48849" stroke-width="0.8"/><rect x="590.60" y="63.60" width="5.20" height="5.20" fill="#f48849" stroke="#f48849" stroke-width="0.8"/><rect x="559.00" y="91.40" width="5.20" height="5.20" fill="#f48849" stroke="#f48849" stroke-width="0.8"/><rect x="573.50" y="73.40" width="5.20" height="5.20" fill="#f48849" stroke="#f48849" stroke-width="0.8"/><rect x="574.90" y="83.50" width="5.20" height="5.20" fill="#f48849" stroke="#f48849" stroke-width="0.8"/><rect x="590.10" y="63.20" width="5.20" height="5.20" fill="#f48849" stroke="#f48849" stroke-width="0.8"/><rect x="547.40" y="102.50" width="5.20" height="5.20" fill="#f48849" stroke="#f48849" stroke-width="0.8"/><rect x="572.80" y="81.80" width="5.20" height="5.20" fill="#f48849" stroke="#f48849" stroke-width="0.8"/><polygon points="555.36,96.54 559.04,100.21 555.36,103.89 551.68,100.21" fill="#febd2a" stroke="#febd2a" stroke-width="0.8" stroke-linejoin="miter"/><polygon points="559.61,90.73 563.28,94.41 559.61,98.09 555.93,94.41" fill="#febd2a" stroke="#febd2a" stroke-width="0.8" stroke-linejoin="miter"/><polygon points="566.70,82.70 570.38,86.38 566.70,90.06 563.02,86.38" fill="#febd2a" stroke="#febd2a" stroke-width="0.8" stroke-linejoin="miter"/><polygon points="596.80,38.62 600.48,42.30 596.80,45.98 593.12,42.30" fill="#febd2a" stroke="#febd2a" stroke-width="0.8" stroke-linejoin="miter"/><polygon points="571.60,69.72 575.28,73.40 571.60,77.08 567.92,73.40" fill="#febd2a" stroke="#febd2a" stroke-width="0.8" stroke-linejoin="miter"/><polygon points="549.30,99.02 552.98,102.70 549.30,106.38 545.62,102.70" fill="#febd2a" stroke="#febd2a" stroke-width="0.8" stroke-linejoin="miter"/><polygon points="563.10,96.82 566.78,100.50 563.10,104.18 559.42,100.50" fill="#febd2a" stroke="#febd2a" stroke-width="0.8" stroke-linejoin="miter"/><polygon points="568.80,86.72 572.48,90.40 568.80,94.08 565.12,90.40" fill="#febd2a" stroke="#febd2a" stroke-width="0.8" stroke-linejoin="miter"/><polygon points="571.70,70.82 575.38,74.50 571.70,78.18 568.02,74.50" fill="#febd2a" stroke="#febd2a" stroke-width="0.8" stroke-linejoin="miter"/><polygon points="583.30,75.92 586.98,79.60 583.30,83.28 579.62,79.60" fill="#febd2a" stroke="#febd2a" stroke-width="0.8" stroke-linejoin="miter"/><polygon points="559.40,87.32 563.08,91.00 559.40,94.68 555.72,91.00" fill="#febd2a" stroke="#febd2a" stroke-width="0.8" stroke-linejoin="miter"/><polygon points="582.90,76.02 586.58,79.70 582.90,83.38 579.22,79.70" fill="#febd2a" stroke="#febd2a" stroke-width="0.8" stroke-linejoin="miter"/></g>
<rect x="599.5" y="91.2" width="73.5" height="69.3" fill="#fff"/>
<g stroke="#111"><line x1="602.90" y1="160.50" x2="602.90" y2="156.50" stroke-width="0.9"/><line x1="602.90" y1="91.20" x2="602.90" y2="95.20" stroke-width="0.9"/><line x1="669.70" y1="160.50" x2="669.70" y2="156.50" stroke-width="0.9"/><line x1="669.70" y1="91.20" x2="669.70" y2="95.20" stroke-width="0.9"/><line x1="623.01" y1="160.50" x2="623.01" y2="158.20" stroke-width="0.7"/><line x1="623.01" y1="91.20" x2="623.01" y2="93.50" stroke-width="0.7"/><line x1="634.77" y1="160.50" x2="634.77" y2="158.20" stroke-width="0.7"/><line x1="634.77" y1="91.20" x2="634.77" y2="93.50" stroke-width="0.7"/><line x1="643.12" y1="160.50" x2="643.12" y2="158.20" stroke-width="0.7"/><line x1="643.12" y1="91.20" x2="643.12" y2="93.50" stroke-width="0.7"/><line x1="649.59" y1="160.50" x2="649.59" y2="158.20" stroke-width="0.7"/><line x1="649.59" y1="91.20" x2="649.59" y2="93.50" stroke-width="0.7"/><line x1="654.88" y1="160.50" x2="654.88" y2="158.20" stroke-width="0.7"/><line x1="654.88" y1="91.20" x2="654.88" y2="93.50" stroke-width="0.7"/><line x1="659.35" y1="160.50" x2="659.35" y2="158.20" stroke-width="0.7"/><line x1="659.35" y1="91.20" x2="659.35" y2="93.50" stroke-width="0.7"/><line x1="663.23" y1="160.50" x2="663.23" y2="158.20" stroke-width="0.7"/><line x1="663.23" y1="91.20" x2="663.23" y2="93.50" stroke-width="0.7"/><line x1="666.64" y1="160.50" x2="666.64" y2="158.20" stroke-width="0.7"/><line x1="666.64" y1="91.20" x2="666.64" y2="93.50" stroke-width="0.7"/><line x1="599.50" y1="155.90" x2="603.50" y2="155.90" stroke-width="0.9"/><line x1="673.00" y1="155.90" x2="669.00" y2="155.90" stroke-width="0.9"/><line x1="599.50" y1="93.00" x2="603.50" y2="93.00" stroke-width="0.9"/><line x1="673.00" y1="93.00" x2="669.00" y2="93.00" stroke-width="0.9"/><line x1="599.50" y1="158.78" x2="601.80" y2="158.78" stroke-width="0.7"/><line x1="673.00" y1="158.78" x2="670.70" y2="158.78" stroke-width="0.7"/><line x1="599.50" y1="136.97" x2="601.80" y2="136.97" stroke-width="0.7"/><line x1="673.00" y1="136.97" x2="670.70" y2="136.97" stroke-width="0.7"/><line x1="599.50" y1="125.89" x2="601.80" y2="125.89" stroke-width="0.7"/><line x1="673.00" y1="125.89" x2="670.70" y2="125.89" stroke-width="0.7"/><line x1="599.50" y1="118.03" x2="601.80" y2="118.03" stroke-width="0.7"/><line x1="673.00" y1="118.03" x2="670.70" y2="118.03" stroke-width="0.7"/><line x1="599.50" y1="111.93" x2="601.80" y2="111.93" stroke-width="0.7"/><line x1="673.00" y1="111.93" x2="670.70" y2="111.93" stroke-width="0.7"/><line x1="599.50" y1="106.95" x2="601.80" y2="106.95" stroke-width="0.7"/><line x1="673.00" y1="106.95" x2="670.70" y2="106.95" stroke-width="0.7"/><line x1="599.50" y1="102.74" x2="601.80" y2="102.74" stroke-width="0.7"/><line x1="673.00" y1="102.74" x2="670.70" y2="102.74" stroke-width="0.7"/><line x1="599.50" y1="99.10" x2="601.80" y2="99.10" stroke-width="0.7"/><line x1="673.00" y1="99.10" x2="670.70" y2="99.10" stroke-width="0.7"/><line x1="599.50" y1="95.88" x2="601.80" y2="95.88" stroke-width="0.7"/><line x1="673.00" y1="95.88" x2="670.70" y2="95.88" stroke-width="0.7"/></g>
<line x1="599.84" y1="158.78" x2="673.75" y2="89.18" stroke="#444" stroke-width="0.55" clip-path="url(#clipEI)"/>
<g clip-path="url(#clipEI)"><circle cx="603.50" cy="155.30" r="2.60" fill="#0d0887" stroke="#0d0887" stroke-width="0.8"/><polygon points="603.50,157.50 600.90,152.30 606.10,152.30" fill="#5402a3" stroke="#5402a3" stroke-width="0.8" stroke-linejoin="miter"/><polygon points="603.50,152.90 600.90,158.10 606.10,158.10" fill="#8b0aa5" stroke="#8b0aa5" stroke-width="0.8" stroke-linejoin="miter"/><polygon points="600.90,156.20 606.10,153.60 606.10,158.80" fill="#b83289" stroke="#b83289" stroke-width="0.8" stroke-linejoin="miter"/><polygon points="606.10,156.50 600.90,153.90 600.90,159.10" fill="#db5c68" stroke="#db5c68" stroke-width="0.8" stroke-linejoin="miter"/><rect x="600.90" y="154.30" width="5.20" height="5.20" fill="#f48849" stroke="#f48849" stroke-width="0.8"/><polygon points="603.50,153.72 607.18,157.40 603.50,161.08 599.82,157.40" fill="#febd2a" stroke="#febd2a" stroke-width="0.8" stroke-linejoin="miter"/><circle cx="623.61" cy="136.37" r="2.60" fill="#0d0887" stroke="#0d0887" stroke-width="0.8"/><polygon points="623.61,138.57 621.01,133.37 626.21,133.37" fill="#5402a3" stroke="#5402a3" stroke-width="0.8" stroke-linejoin="miter"/><polygon points="623.61,133.97 621.01,139.17 626.21,139.17" fill="#8b0aa5" stroke="#8b0aa5" stroke-width="0.8" stroke-linejoin="miter"/><polygon points="621.01,137.27 626.21,134.67 626.21,139.87" fill="#b83289" stroke="#b83289" stroke-width="0.8" stroke-linejoin="miter"/><polygon points="626.21,137.57 621.01,134.97 621.01,140.17" fill="#db5c68" stroke="#db5c68" stroke-width="0.8" stroke-linejoin="miter"/><rect x="621.01" y="135.37" width="5.20" height="5.20" fill="#f48849" stroke="#f48849" stroke-width="0.8"/><polygon points="623.61,134.79 627.29,138.47 623.61,142.14 619.93,138.47" fill="#febd2a" stroke="#febd2a" stroke-width="0.8" stroke-linejoin="miter"/><circle cx="635.37" cy="125.29" r="2.60" fill="#0d0887" stroke="#0d0887" stroke-width="0.8"/><polygon points="635.37,127.49 632.77,122.29 637.97,122.29" fill="#5402a3" stroke="#5402a3" stroke-width="0.8" stroke-linejoin="miter"/><polygon points="635.37,122.89 632.77,128.09 637.97,128.09" fill="#8b0aa5" stroke="#8b0aa5" stroke-width="0.8" stroke-linejoin="miter"/><polygon points="632.77,126.19 637.97,123.59 637.97,128.79" fill="#b83289" stroke="#b83289" stroke-width="0.8" stroke-linejoin="miter"/><polygon points="637.97,126.49 632.77,123.89 632.77,129.09" fill="#db5c68" stroke="#db5c68" stroke-width="0.8" stroke-linejoin="miter"/><rect x="632.77" y="124.29" width="5.20" height="5.20" fill="#f48849" stroke="#f48849" stroke-width="0.8"/><polygon points="635.37,123.71 639.05,127.39 635.37,131.07 631.69,127.39" fill="#febd2a" stroke="#febd2a" stroke-width="0.8" stroke-linejoin="miter"/><polygon points="643.72,119.63 641.12,114.43 646.32,114.43" fill="#5402a3" stroke="#5402a3" stroke-width="0.8" stroke-linejoin="miter"/><polygon points="643.72,115.03 641.12,120.23 646.32,120.23" fill="#8b0aa5" stroke="#8b0aa5" stroke-width="0.8" stroke-linejoin="miter"/><polygon points="641.12,118.33 646.32,115.73 646.32,120.93" fill="#b83289" stroke="#b83289" stroke-width="0.8" stroke-linejoin="miter"/><polygon points="646.32,118.63 641.12,116.03 641.12,121.23" fill="#db5c68" stroke="#db5c68" stroke-width="0.8" stroke-linejoin="miter"/><rect x="641.12" y="116.43" width="5.20" height="5.20" fill="#f48849" stroke="#f48849" stroke-width="0.8"/><polygon points="643.72,115.85 647.39,119.53 643.72,123.21 640.04,119.53" fill="#febd2a" stroke="#febd2a" stroke-width="0.8" stroke-linejoin="miter"/><polygon points="652.20,110.70 649.60,105.50 654.80,105.50" fill="#5402a3" stroke="#5402a3" stroke-width="0.8" stroke-linejoin="miter"/><polygon points="652.60,107.90 650.00,113.10 655.20,113.10" fill="#8b0aa5" stroke="#8b0aa5" stroke-width="0.8" stroke-linejoin="miter"/><polygon points="657.40,106.50 654.80,101.30 660.00,101.30" fill="#5402a3" stroke="#5402a3" stroke-width="0.8" stroke-linejoin="miter"/><polygon points="669.70,95.60 667.10,90.40 672.30,90.40" fill="#5402a3" stroke="#5402a3" stroke-width="0.8" stroke-linejoin="miter"/><polygon points="669.70,91.40 667.10,96.60 672.30,96.60" fill="#8b0aa5" stroke="#8b0aa5" stroke-width="0.8" stroke-linejoin="miter"/></g>
<rect x="599.5" y="91.2" width="73.5" height="69.3" fill="none" stroke="#111" stroke-width="1.1"/>
<text x="607.63" y="111.60" font-family='"Liberation Serif", serif' font-size="14" font-style="italic" fill="#1a1a1a" textLength="5.64" lengthAdjust="spacingAndGlyphs">s</text>
<text x="613.95" y="113.30" font-family='"Liberation Serif", serif' font-size="10" font-style="italic" fill="#1a1a1a" textLength="3.11" lengthAdjust="spacingAndGlyphs">t</text>
<rect x="608.3" y="103.1" width="4.9" height="0.8" fill="#1a1a1a"/>
<rect x="623.4" y="106.2" width="8.3" height="0.85" fill="#1a1a1a"/>
<rect x="623.4" y="109.0" width="8.3" height="0.85" fill="#1a1a1a"/>
<text x="636.49" y="111.60" font-family='"Liberation Serif", serif' font-size="14.5" font-style="italic" fill="#1a1a1a" textLength="4.67" lengthAdjust="spacingAndGlyphs">t</text>
<text x="575.90" y="162.20" font-family='"Liberation Serif", serif' font-size="14" fill="#1a1a1a" >10</text><text x="590.60" y="157.10" font-family='"Liberation Serif", serif' font-size="10" fill="#1a1a1a" >0</text>
<text x="574.80" y="98.90" font-family='"Liberation Serif", serif' font-size="14" fill="#1a1a1a" >10</text><text x="589.50" y="93.80" font-family='"Liberation Serif", serif' font-size="10" fill="#1a1a1a" >1</text>
<text x="593.12" y="173.80" font-family='"Liberation Serif", serif' font-size="14" fill="#1a1a1a" >10</text><text x="607.82" y="168.70" font-family='"Liberation Serif", serif' font-size="10" fill="#1a1a1a" >0</text>
<text x="662.22" y="173.80" font-family='"Liberation Serif", serif' font-size="14" fill="#1a1a1a" >10</text><text x="676.92" y="168.70" font-family='"Liberation Serif", serif' font-size="10" fill="#1a1a1a" >1</text>
<text x="618.93" y="171.40" font-family='"Liberation Serif", serif' font-size="13" font-style="italic" fill="#1a1a1a" textLength="3.22" lengthAdjust="spacingAndGlyphs">t</text>
<text x="623.41" y="171.40" font-family='"Liberation Serif", serif' font-size="13" font-style="italic" fill="#1a1a1a" textLength="8.52" lengthAdjust="spacingAndGlyphs">N</text>
<text x="633.47" y="171.40" font-family='"Liberation Serif", serif' font-size="13" font-style="italic" fill="#1a1a1a" textLength="5.45" lengthAdjust="spacingAndGlyphs">q</text>
<text x="638.95" y="171.40" font-family='"Liberation Serif", serif' font-size="13" fill="#1a1a1a" textLength="3.43" lengthAdjust="spacingAndGlyphs">/</text>
<text x="643.81" y="171.40" font-family='"Liberation Serif", serif' font-size="13" font-style="italic" fill="#1a1a1a" textLength="9.78" lengthAdjust="spacingAndGlyphs">Q</text>
<rect x="488.2" y="226.3" width="190" height="88.4" rx="2.5" fill="#fff" stroke="#d4d4d4" stroke-width="1"/>
<text x="573.38" y="240.40" font-family='"Liberation Serif", serif' font-size="14" font-style="italic" fill="#1a1a1a" textLength="8.61" lengthAdjust="spacingAndGlyphs">φ</text>
<text x="582.83" y="242.60" font-family='"Liberation Serif", serif' font-size="10" fill="#1a1a1a" textLength="9.07" lengthAdjust="spacingAndGlyphs">th</text>
<circle cx="501.70" cy="257.90" r="4.20" fill="#0d0887" stroke="#0d0887" stroke-width="1.2"/>
<text x="516.74" y="262.90" font-family='"Liberation Serif", serif' font-size="14" fill="#1a1a1a" >0.6</text>
<polygon points="501.70,284.20 497.50,275.80 505.90,275.80" fill="#5402a3" stroke="#5402a3" stroke-width="1.2" stroke-linejoin="miter"/>
<text x="516.74" y="285.00" font-family='"Liberation Serif", serif' font-size="14" fill="#1a1a1a" >0.7</text>
<polygon points="501.70,298.30 497.50,306.70 505.90,306.70" fill="#8b0aa5" stroke="#8b0aa5" stroke-width="1.2" stroke-linejoin="miter"/>
<text x="516.74" y="307.50" font-family='"Liberation Serif", serif' font-size="14" fill="#1a1a1a" >0.8</text>
<polygon points="566.00,257.90 574.40,253.70 574.40,262.10" fill="#b83289" stroke="#b83289" stroke-width="1.2" stroke-linejoin="miter"/>
<text x="585.44" y="262.90" font-family='"Liberation Serif", serif' font-size="14" fill="#1a1a1a" >0.9</text>
<polygon points="574.40,280.00 566.00,275.80 566.00,284.20" fill="#db5c68" stroke="#db5c68" stroke-width="1.2" stroke-linejoin="miter"/>
<text x="584.74" y="285.00" font-family='"Liberation Serif", serif' font-size="14" fill="#1a1a1a" >1.0</text>
<rect x="635.50" y="253.70" width="8.40" height="8.40" fill="#f48849" stroke="#f48849" stroke-width="1.2"/>
<text x="654.24" y="262.90" font-family='"Liberation Serif", serif' font-size="14" fill="#1a1a1a" >1.1</text>
<polygon points="639.70,274.06 645.64,280.00 639.70,285.94 633.76,280.00" fill="#febd2a" stroke="#febd2a" stroke-width="1.2" stroke-linejoin="miter"/>
<text x="654.24" y="285.00" font-family='"Liberation Serif", serif' font-size="14" fill="#1a1a1a" >1.2</text>
<rect x="57.5" y="21.1" width="148.0" height="119.1" fill="none" stroke="#111" stroke-width="1.1"/>
<rect x="279.5" y="21.1" width="148.0" height="119.1" fill="none" stroke="#111" stroke-width="1.1"/>
<rect x="57.4" y="188.1" width="148.0" height="118.9" fill="none" stroke="#111" stroke-width="1.1"/>
<rect x="279.4" y="188.1" width="147.8" height="118.9" fill="none" stroke="#111" stroke-width="1.1"/>
<rect x="487.6" y="24.5" width="195.89999999999998" height="156.5" fill="none" stroke="#111" stroke-width="1.1"/>
</svg>
</body></html>
